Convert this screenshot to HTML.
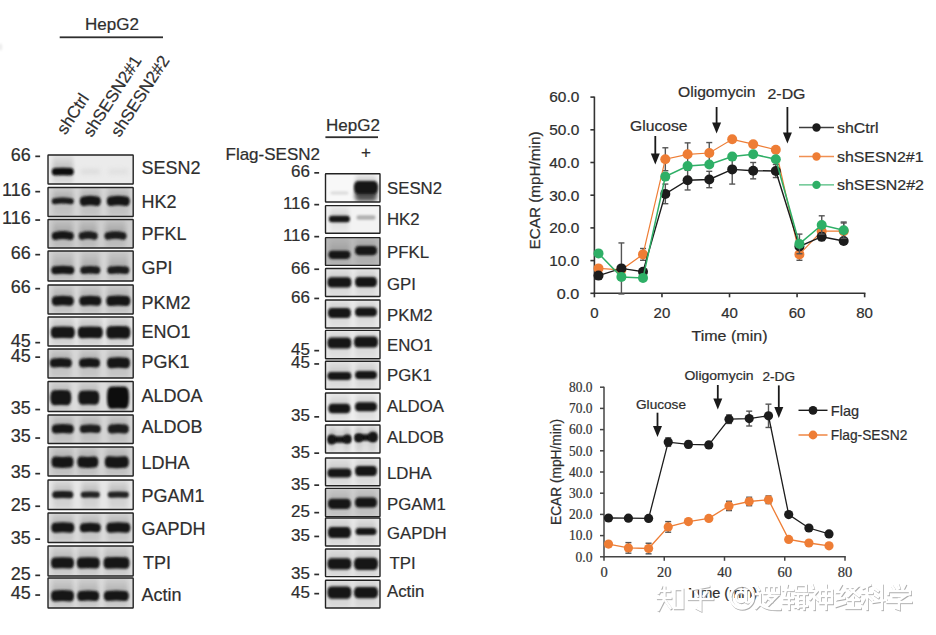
<!DOCTYPE html>
<html><head><meta charset="utf-8"><style>
html,body{margin:0;padding:0;background:#fff;width:936px;height:635px;overflow:hidden}
svg{display:block}
</style></head><body>
<svg width="936" height="635" viewBox="0 0 936 635">
<defs>
<filter id="b1" x="-50%" y="-100%" width="200%" height="300%"><feGaussianBlur stdDeviation="1.1"/></filter>
<filter id="b2" x="-50%" y="-100%" width="200%" height="300%"><feGaussianBlur stdDeviation="2"/></filter>
<filter id="b3" x="-50%" y="-100%" width="200%" height="300%"><feGaussianBlur stdDeviation="3"/></filter>
<filter id="tb" x="-10%" y="-10%" width="120%" height="120%"><feGaussianBlur stdDeviation="0.35"/></filter>
</defs>
<rect width="936" height="635" fill="#fff"/>

<linearGradient id="smU" x1="0" y1="0" x2="0" y2="1"><stop offset="0" stop-color="#000" stop-opacity="0"/><stop offset="1" stop-color="#000" stop-opacity="1"/></linearGradient>
<linearGradient id="smD" x1="0" y1="0" x2="0" y2="1"><stop offset="0" stop-color="#000" stop-opacity="1"/><stop offset="1" stop-color="#000" stop-opacity="0"/></linearGradient>
<clipPath id="c1"><rect x="48" y="155" width="85.19999999999999" height="29"/></clipPath>
<g clip-path="url(#c1)">
<rect x="48" y="155" width="85.19999999999999" height="29" fill="#ebebeb"/>
<rect x="52.8" y="155" width="20" height="29" fill="#000" opacity="0.06" filter="url(#b2)"/>
<rect x="52.8" y="157" width="20" height="14.400000000000006" fill="url(#smU)" opacity="0.18" filter="url(#b2)"/>
<rect x="52.8" y="171.4" width="20" height="12.599999999999994" fill="url(#smD)" opacity="0.06" filter="url(#b2)"/>
<path d="M55.17,167.95 Q62.80,167.35 70.42,167.95 Q73.80,167.95 73.80,171.70 Q73.80,175.45 70.42,175.45 Q62.80,174.85 55.17,175.45 Q51.80,175.45 51.80,171.70 Q51.80,167.95 55.17,167.95 Z" fill="#111" opacity="1" filter="url(#b1)"/>
<path d="M82.77,168.95 Q90.30,168.35 97.83,168.95 Q100.30,168.95 100.30,171.70 Q100.30,174.45 97.83,174.45 Q90.30,173.85 82.77,174.45 Q80.30,174.45 80.30,171.70 Q80.30,168.95 82.77,168.95 Z" fill="#cfcfcf" opacity="0.5" filter="url(#b2)"/>
<path d="M110.77,168.95 Q118.30,168.35 125.83,168.95 Q128.30,168.95 128.30,171.70 Q128.30,174.45 125.83,174.45 Q118.30,173.85 110.77,174.45 Q108.30,174.45 108.30,171.70 Q108.30,168.95 110.77,168.95 Z" fill="#d0d0d0" opacity="0.4" filter="url(#b2)"/>
</g>
<rect x="48" y="155" width="85.19999999999999" height="29" fill="none" stroke="#222" stroke-width="1.4" rx="0.5"/>
<clipPath id="c2"><rect x="48" y="187.5" width="85.19999999999999" height="29.0"/></clipPath>
<g clip-path="url(#c2)">
<rect x="48" y="187.5" width="85.19999999999999" height="29.0" fill="#d4d4d4"/>
<rect x="52.8" y="187.5" width="20" height="29.0" fill="#000" opacity="0.06" filter="url(#b2)"/>
<rect x="52.8" y="189.5" width="20" height="11.0" fill="url(#smU)" opacity="0.18" filter="url(#b2)"/>
<rect x="52.8" y="200.5" width="20" height="16.0" fill="url(#smD)" opacity="0.06" filter="url(#b2)"/>
<path d="M54.50,198.30 Q62.80,196.70 71.10,198.30 Q73.80,198.30 73.80,201.30 Q73.80,204.30 71.10,204.30 Q62.80,202.70 54.50,204.30 Q51.80,204.30 51.80,201.30 Q51.80,198.30 54.50,198.30 Z" fill="#1a1a1a" opacity="1" filter="url(#b1)"/>
<rect x="80.8" y="187.5" width="19" height="29.0" fill="#000" opacity="0.06" filter="url(#b2)"/>
<rect x="80.8" y="189.5" width="19" height="11.0" fill="url(#smU)" opacity="0.18" filter="url(#b2)"/>
<rect x="80.8" y="200.5" width="19" height="16.0" fill="url(#smD)" opacity="0.06" filter="url(#b2)"/>
<path d="M83.80,196.55 Q90.30,194.95 96.80,196.55 Q100.80,196.55 100.80,201.30 Q100.80,206.05 96.80,206.05 Q90.30,204.45 83.80,206.05 Q79.80,206.05 79.80,201.30 Q79.80,196.55 83.80,196.55 Z" fill="#141414" opacity="1" filter="url(#b1)"/>
<rect x="107.8" y="187.5" width="21" height="29.0" fill="#000" opacity="0.06" filter="url(#b2)"/>
<rect x="107.8" y="189.5" width="21" height="11.0" fill="url(#smU)" opacity="0.18" filter="url(#b2)"/>
<rect x="107.8" y="200.5" width="21" height="16.0" fill="url(#smD)" opacity="0.06" filter="url(#b2)"/>
<path d="M110.80,196.55 Q118.30,194.95 125.80,196.55 Q129.80,196.55 129.80,201.30 Q129.80,206.05 125.80,206.05 Q118.30,204.45 110.80,206.05 Q106.80,206.05 106.80,201.30 Q106.80,196.55 110.80,196.55 Z" fill="#141414" opacity="1" filter="url(#b1)"/>
</g>
<rect x="48" y="187.5" width="85.19999999999999" height="29.0" fill="none" stroke="#222" stroke-width="1.4" rx="0.5"/>
<clipPath id="c3"><rect x="48" y="219.5" width="85.19999999999999" height="28.5"/></clipPath>
<g clip-path="url(#c3)">
<rect x="48" y="219.5" width="85.19999999999999" height="28.5" fill="#cdcdcd"/>
<rect x="52.8" y="219.5" width="20" height="28.5" fill="#000" opacity="0.06" filter="url(#b2)"/>
<rect x="52.8" y="221.5" width="20" height="13.5" fill="url(#smU)" opacity="0.18" filter="url(#b2)"/>
<rect x="52.8" y="235.0" width="20" height="13.0" fill="url(#smD)" opacity="0.06" filter="url(#b2)"/>
<path d="M55.40,231.90 Q62.80,230.10 70.20,231.90 Q73.80,231.90 73.80,235.90 Q73.80,239.90 70.20,239.90 Q62.80,238.10 55.40,239.90 Q51.80,239.90 51.80,235.90 Q51.80,231.90 55.40,231.90 Z" fill="#141414" opacity="1" filter="url(#b1)"/>
<rect x="79.7" y="219.5" width="17" height="28.5" fill="#000" opacity="0.06" filter="url(#b2)"/>
<rect x="79.7" y="221.5" width="17" height="13.5" fill="url(#smU)" opacity="0.18" filter="url(#b2)"/>
<rect x="79.7" y="235.0" width="17" height="13.0" fill="url(#smD)" opacity="0.06" filter="url(#b2)"/>
<path d="M82.08,232.15 Q88.20,230.35 94.33,232.15 Q97.70,232.15 97.70,235.90 Q97.70,239.65 94.33,239.65 Q88.20,237.85 82.08,239.65 Q78.70,239.65 78.70,235.90 Q78.70,232.15 82.08,232.15 Z" fill="#1a1a1a" opacity="1" filter="url(#b1)"/>
<rect x="105.5" y="219.5" width="20" height="28.5" fill="#000" opacity="0.06" filter="url(#b2)"/>
<rect x="105.5" y="221.5" width="20" height="13.5" fill="url(#smU)" opacity="0.18" filter="url(#b2)"/>
<rect x="105.5" y="235.0" width="20" height="13.0" fill="url(#smD)" opacity="0.06" filter="url(#b2)"/>
<path d="M107.88,232.15 Q115.50,230.35 123.12,232.15 Q126.50,232.15 126.50,235.90 Q126.50,239.65 123.12,239.65 Q115.50,237.85 107.88,239.65 Q104.50,239.65 104.50,235.90 Q104.50,232.15 107.88,232.15 Z" fill="#1a1a1a" opacity="1" filter="url(#b1)"/>
</g>
<rect x="48" y="219.5" width="85.19999999999999" height="28.5" fill="none" stroke="#222" stroke-width="1.4" rx="0.5"/>
<clipPath id="c4"><rect x="48" y="251" width="85.19999999999999" height="30"/></clipPath>
<g clip-path="url(#c4)">
<rect x="48" y="251" width="85.19999999999999" height="30" fill="#d4d4d4"/>
<rect x="52.3" y="251" width="21" height="30" fill="#000" opacity="0.06" filter="url(#b2)"/>
<rect x="52.3" y="253" width="21" height="16.80000000000001" fill="url(#smU)" opacity="0.18" filter="url(#b2)"/>
<rect x="52.3" y="269.8" width="21" height="11.199999999999989" fill="url(#smD)" opacity="0.06" filter="url(#b2)"/>
<path d="M54.90,266.30 Q62.80,265.30 70.70,266.30 Q74.30,266.30 74.30,270.30 Q74.30,274.30 70.70,274.30 Q62.80,273.30 54.90,274.30 Q51.30,274.30 51.30,270.30 Q51.30,266.30 54.90,266.30 Z" fill="#161616" opacity="1" filter="url(#b1)"/>
<rect x="81.3" y="251" width="18" height="30" fill="#000" opacity="0.06" filter="url(#b2)"/>
<rect x="81.3" y="253" width="18" height="16.80000000000001" fill="url(#smU)" opacity="0.18" filter="url(#b2)"/>
<rect x="81.3" y="269.8" width="18" height="11.199999999999989" fill="url(#smD)" opacity="0.06" filter="url(#b2)"/>
<path d="M83.67,266.55 Q90.30,265.55 96.92,266.55 Q100.30,266.55 100.30,270.30 Q100.30,274.05 96.92,274.05 Q90.30,273.05 83.67,274.05 Q80.30,274.05 80.30,270.30 Q80.30,266.55 83.67,266.55 Z" fill="#1a1a1a" opacity="1" filter="url(#b1)"/>
<rect x="108.3" y="251" width="20" height="30" fill="#000" opacity="0.06" filter="url(#b2)"/>
<rect x="108.3" y="253" width="20" height="16.80000000000001" fill="url(#smU)" opacity="0.18" filter="url(#b2)"/>
<rect x="108.3" y="269.8" width="20" height="11.199999999999989" fill="url(#smD)" opacity="0.06" filter="url(#b2)"/>
<path d="M110.67,266.55 Q118.30,265.55 125.93,266.55 Q129.30,266.55 129.30,270.30 Q129.30,274.05 125.93,274.05 Q118.30,273.05 110.67,274.05 Q107.30,274.05 107.30,270.30 Q107.30,266.55 110.67,266.55 Z" fill="#1a1a1a" opacity="1" filter="url(#b1)"/>
</g>
<rect x="48" y="251" width="85.19999999999999" height="30" fill="none" stroke="#222" stroke-width="1.4" rx="0.5"/>
<clipPath id="c5"><rect x="48" y="285" width="85.19999999999999" height="29"/></clipPath>
<g clip-path="url(#c5)">
<rect x="48" y="285" width="85.19999999999999" height="29" fill="#d6d6d6"/>
<rect x="52.8" y="285" width="20" height="29" fill="#000" opacity="0.06" filter="url(#b2)"/>
<rect x="52.8" y="287" width="20" height="13.5" fill="url(#smU)" opacity="0.18" filter="url(#b2)"/>
<rect x="52.8" y="300.5" width="20" height="13.5" fill="url(#smD)" opacity="0.06" filter="url(#b2)"/>
<path d="M55.80,296.35 Q62.80,295.15 69.80,296.35 Q73.80,296.35 73.80,301.10 Q73.80,305.85 69.80,305.85 Q62.80,304.65 55.80,305.85 Q51.80,305.85 51.80,301.10 Q51.80,296.35 55.80,296.35 Z" fill="#151515" opacity="1" filter="url(#b1)"/>
<rect x="80.3" y="285" width="20" height="29" fill="#000" opacity="0.06" filter="url(#b2)"/>
<rect x="80.3" y="287" width="20" height="13.5" fill="url(#smU)" opacity="0.18" filter="url(#b2)"/>
<rect x="80.3" y="300.5" width="20" height="13.5" fill="url(#smD)" opacity="0.06" filter="url(#b2)"/>
<path d="M83.30,296.35 Q90.30,295.15 97.30,296.35 Q101.30,296.35 101.30,301.10 Q101.30,305.85 97.30,305.85 Q90.30,304.65 83.30,305.85 Q79.30,305.85 79.30,301.10 Q79.30,296.35 83.30,296.35 Z" fill="#151515" opacity="1" filter="url(#b1)"/>
<rect x="107.3" y="285" width="22" height="29" fill="#000" opacity="0.06" filter="url(#b2)"/>
<rect x="107.3" y="287" width="22" height="13.5" fill="url(#smU)" opacity="0.18" filter="url(#b2)"/>
<rect x="107.3" y="300.5" width="22" height="13.5" fill="url(#smD)" opacity="0.06" filter="url(#b2)"/>
<path d="M110.30,296.10 Q118.30,294.90 126.30,296.10 Q130.30,296.10 130.30,301.10 Q130.30,306.10 126.30,306.10 Q118.30,304.90 110.30,306.10 Q106.30,306.10 106.30,301.10 Q106.30,296.10 110.30,296.10 Z" fill="#151515" opacity="1" filter="url(#b1)"/>
</g>
<rect x="48" y="285" width="85.19999999999999" height="29" fill="none" stroke="#222" stroke-width="1.4" rx="0.5"/>
<clipPath id="c6"><rect x="48" y="317" width="85.19999999999999" height="29"/></clipPath>
<g clip-path="url(#c6)">
<rect x="48" y="317" width="85.19999999999999" height="29" fill="#e6e6e6"/>
<rect x="51.8" y="317" width="22" height="29" fill="#000" opacity="0.06" filter="url(#b2)"/>
<rect x="51.8" y="319" width="22" height="13.300000000000011" fill="url(#smU)" opacity="0.18" filter="url(#b2)"/>
<rect x="51.8" y="332.3" width="22" height="13.699999999999989" fill="url(#smD)" opacity="0.06" filter="url(#b2)"/>
<path d="M54.80,326.65 Q62.80,326.45 70.80,326.65 Q74.80,326.65 74.80,332.40 Q74.80,338.15 70.80,338.15 Q62.80,337.95 54.80,338.15 Q50.80,338.15 50.80,332.40 Q50.80,326.65 54.80,326.65 Z" fill="#151515" opacity="1" filter="url(#b1)"/>
<rect x="78.8" y="317" width="23" height="29" fill="#000" opacity="0.06" filter="url(#b2)"/>
<rect x="78.8" y="319" width="23" height="13.300000000000011" fill="url(#smU)" opacity="0.18" filter="url(#b2)"/>
<rect x="78.8" y="332.3" width="23" height="13.699999999999989" fill="url(#smD)" opacity="0.06" filter="url(#b2)"/>
<path d="M81.80,326.65 Q90.30,326.45 98.80,326.65 Q102.80,326.65 102.80,332.40 Q102.80,338.15 98.80,338.15 Q90.30,337.95 81.80,338.15 Q77.80,338.15 77.80,332.40 Q77.80,326.65 81.80,326.65 Z" fill="#151515" opacity="1" filter="url(#b1)"/>
<rect x="107.3" y="317" width="22" height="29" fill="#000" opacity="0.06" filter="url(#b2)"/>
<rect x="107.3" y="319" width="22" height="13.300000000000011" fill="url(#smU)" opacity="0.18" filter="url(#b2)"/>
<rect x="107.3" y="332.3" width="22" height="13.699999999999989" fill="url(#smD)" opacity="0.06" filter="url(#b2)"/>
<path d="M110.30,326.15 Q118.30,325.95 126.30,326.15 Q130.30,326.15 130.30,332.40 Q130.30,338.65 126.30,338.65 Q118.30,338.45 110.30,338.65 Q106.30,338.65 106.30,332.40 Q106.30,326.15 110.30,326.15 Z" fill="#151515" opacity="1" filter="url(#b1)"/>
</g>
<rect x="48" y="317" width="85.19999999999999" height="29" fill="none" stroke="#222" stroke-width="1.4" rx="0.5"/>
<clipPath id="c7"><rect x="48" y="349" width="85.19999999999999" height="29"/></clipPath>
<g clip-path="url(#c7)">
<rect x="48" y="349" width="85.19999999999999" height="29" fill="#d6d6d6"/>
<rect x="50.8" y="349" width="20" height="29" fill="#000" opacity="0.06" filter="url(#b2)"/>
<rect x="50.8" y="351" width="20" height="11.600000000000023" fill="url(#smU)" opacity="0.18" filter="url(#b2)"/>
<rect x="50.8" y="362.6" width="20" height="15.399999999999977" fill="url(#smD)" opacity="0.06" filter="url(#b2)"/>
<path d="M53.80,358.50 Q60.80,357.70 67.80,358.50 Q71.80,358.50 71.80,363.00 Q71.80,367.50 67.80,367.50 Q60.80,366.70 53.80,367.50 Q49.80,367.50 49.80,363.00 Q49.80,358.50 53.80,358.50 Z" fill="#171717" opacity="1" filter="url(#b1)"/>
<rect x="80.0" y="349" width="19" height="29" fill="#000" opacity="0.06" filter="url(#b2)"/>
<rect x="80.0" y="351" width="19" height="11.600000000000023" fill="url(#smU)" opacity="0.18" filter="url(#b2)"/>
<rect x="80.0" y="362.6" width="19" height="15.399999999999977" fill="url(#smD)" opacity="0.06" filter="url(#b2)"/>
<path d="M83.00,358.50 Q89.50,357.70 96.00,358.50 Q100.00,358.50 100.00,363.00 Q100.00,367.50 96.00,367.50 Q89.50,366.70 83.00,367.50 Q79.00,367.50 79.00,363.00 Q79.00,358.50 83.00,358.50 Z" fill="#171717" opacity="1" filter="url(#b1)"/>
<rect x="108.0" y="349" width="21" height="29" fill="#000" opacity="0.06" filter="url(#b2)"/>
<rect x="108.0" y="351" width="21" height="11.600000000000023" fill="url(#smU)" opacity="0.18" filter="url(#b2)"/>
<rect x="108.0" y="362.6" width="21" height="15.399999999999977" fill="url(#smD)" opacity="0.06" filter="url(#b2)"/>
<path d="M111.00,357.75 Q118.50,356.95 126.00,357.75 Q130.00,357.75 130.00,363.00 Q130.00,368.25 126.00,368.25 Q118.50,367.45 111.00,368.25 Q107.00,368.25 107.00,363.00 Q107.00,357.75 111.00,357.75 Z" fill="#151515" opacity="1" filter="url(#b1)"/>
</g>
<rect x="48" y="349" width="85.19999999999999" height="29" fill="none" stroke="#222" stroke-width="1.4" rx="0.5"/>
<clipPath id="c8"><rect x="48" y="381.5" width="85.19999999999999" height="30.0"/></clipPath>
<g clip-path="url(#c8)">
<rect x="48" y="381.5" width="85.19999999999999" height="30.0" fill="#dcdcdc"/>
<rect x="51.3" y="381.5" width="19" height="30.0" fill="#000" opacity="0.06" filter="url(#b2)"/>
<rect x="51.3" y="383.5" width="19" height="14.0" fill="url(#smU)" opacity="0.18" filter="url(#b2)"/>
<rect x="51.3" y="397.5" width="19" height="14.0" fill="url(#smD)" opacity="0.06" filter="url(#b2)"/>
<path d="M54.30,390.20 Q60.80,389.80 67.30,390.20 Q71.30,390.20 71.30,397.70 Q71.30,405.20 67.30,405.20 Q60.80,404.80 54.30,405.20 Q50.30,405.20 50.30,397.70 Q50.30,390.20 54.30,390.20 Z" fill="#151515" opacity="1" filter="url(#b1)"/>
<rect x="79.3" y="381.5" width="19" height="30.0" fill="#000" opacity="0.06" filter="url(#b2)"/>
<rect x="79.3" y="383.5" width="19" height="14.0" fill="url(#smU)" opacity="0.18" filter="url(#b2)"/>
<rect x="79.3" y="397.5" width="19" height="14.0" fill="url(#smD)" opacity="0.06" filter="url(#b2)"/>
<path d="M82.30,390.70 Q88.80,390.30 95.30,390.70 Q99.30,390.70 99.30,397.70 Q99.30,404.70 95.30,404.70 Q88.80,404.30 82.30,404.70 Q78.30,404.70 78.30,397.70 Q78.30,390.70 82.30,390.70 Z" fill="#151515" opacity="1" filter="url(#b1)"/>
<rect x="108.0" y="381.5" width="20" height="30.0" fill="#000" opacity="0.06" filter="url(#b2)"/>
<rect x="108.0" y="383.5" width="20" height="14.0" fill="url(#smU)" opacity="0.18" filter="url(#b2)"/>
<rect x="108.0" y="397.5" width="20" height="14.0" fill="url(#smD)" opacity="0.06" filter="url(#b2)"/>
<path d="M111.00,386.70 Q118.00,386.30 125.00,386.70 Q129.00,386.70 129.00,397.70 Q129.00,408.70 125.00,408.70 Q118.00,408.30 111.00,408.70 Q107.00,408.70 107.00,397.70 Q107.00,386.70 111.00,386.70 Z" fill="#111" opacity="1" filter="url(#b1)"/>
</g>
<rect x="48" y="381.5" width="85.19999999999999" height="30.0" fill="none" stroke="#222" stroke-width="1.4" rx="0.5"/>
<clipPath id="c9"><rect x="48" y="415" width="85.19999999999999" height="28.5"/></clipPath>
<g clip-path="url(#c9)">
<rect x="48" y="415" width="85.19999999999999" height="28.5" fill="#d4d4d4"/>
<rect x="52.8" y="415" width="20" height="28.5" fill="#000" opacity="0.06" filter="url(#b2)"/>
<rect x="52.8" y="417" width="20" height="11.600000000000023" fill="url(#smU)" opacity="0.18" filter="url(#b2)"/>
<rect x="52.8" y="428.6" width="20" height="14.899999999999977" fill="url(#smD)" opacity="0.06" filter="url(#b2)"/>
<path d="M55.80,424.60 Q62.80,423.60 69.80,424.60 Q73.80,424.60 73.80,429.10 Q73.80,433.60 69.80,433.60 Q62.80,432.60 55.80,433.60 Q51.80,433.60 51.80,429.10 Q51.80,424.60 55.80,424.60 Z" fill="#161616" opacity="1" filter="url(#b1)"/>
<rect x="80.8" y="415" width="19" height="28.5" fill="#000" opacity="0.06" filter="url(#b2)"/>
<rect x="80.8" y="417" width="19" height="11.600000000000023" fill="url(#smU)" opacity="0.18" filter="url(#b2)"/>
<rect x="80.8" y="428.6" width="19" height="14.899999999999977" fill="url(#smD)" opacity="0.06" filter="url(#b2)"/>
<path d="M83.40,425.10 Q90.30,424.10 97.20,425.10 Q100.80,425.10 100.80,429.10 Q100.80,433.10 97.20,433.10 Q90.30,432.10 83.40,433.10 Q79.80,433.10 79.80,429.10 Q79.80,425.10 83.40,425.10 Z" fill="#1b1b1b" opacity="1" filter="url(#b1)"/>
<rect x="108.8" y="415" width="19" height="28.5" fill="#000" opacity="0.06" filter="url(#b2)"/>
<rect x="108.8" y="417" width="19" height="11.600000000000023" fill="url(#smU)" opacity="0.18" filter="url(#b2)"/>
<rect x="108.8" y="428.6" width="19" height="14.899999999999977" fill="url(#smD)" opacity="0.06" filter="url(#b2)"/>
<path d="M111.80,424.60 Q118.30,423.60 124.80,424.60 Q128.80,424.60 128.80,429.10 Q128.80,433.60 124.80,433.60 Q118.30,432.60 111.80,433.60 Q107.80,433.60 107.80,429.10 Q107.80,424.60 111.80,424.60 Z" fill="#1a1a1a" opacity="1" filter="url(#b1)"/>
</g>
<rect x="48" y="415" width="85.19999999999999" height="28.5" fill="none" stroke="#222" stroke-width="1.4" rx="0.5"/>
<clipPath id="c10"><rect x="48" y="447" width="85.19999999999999" height="29"/></clipPath>
<g clip-path="url(#c10)">
<rect x="48" y="447" width="85.19999999999999" height="29" fill="#d2d2d2"/>
<rect x="52.5" y="447" width="20" height="29" fill="#000" opacity="0.06" filter="url(#b2)"/>
<rect x="52.5" y="449" width="20" height="13.399999999999977" fill="url(#smU)" opacity="0.18" filter="url(#b2)"/>
<rect x="52.5" y="462.4" width="20" height="13.600000000000023" fill="url(#smD)" opacity="0.06" filter="url(#b2)"/>
<path d="M55.50,456.50 Q62.50,457.30 69.50,456.50 Q73.50,456.50 73.50,462.00 Q73.50,467.50 69.50,467.50 Q62.50,468.30 55.50,467.50 Q51.50,467.50 51.50,462.00 Q51.50,456.50 55.50,456.50 Z" fill="#151515" opacity="1" filter="url(#b1)"/>
<rect x="78.3" y="447" width="19" height="29" fill="#000" opacity="0.06" filter="url(#b2)"/>
<rect x="78.3" y="449" width="19" height="13.399999999999977" fill="url(#smU)" opacity="0.18" filter="url(#b2)"/>
<rect x="78.3" y="462.4" width="19" height="13.600000000000023" fill="url(#smD)" opacity="0.06" filter="url(#b2)"/>
<path d="M81.30,456.50 Q87.80,457.30 94.30,456.50 Q98.30,456.50 98.30,462.00 Q98.30,467.50 94.30,467.50 Q87.80,468.30 81.30,467.50 Q77.30,467.50 77.30,462.00 Q77.30,456.50 81.30,456.50 Z" fill="#151515" opacity="1" filter="url(#b1)"/>
<rect x="105.8" y="447" width="22" height="29" fill="#000" opacity="0.06" filter="url(#b2)"/>
<rect x="105.8" y="449" width="22" height="13.399999999999977" fill="url(#smU)" opacity="0.18" filter="url(#b2)"/>
<rect x="105.8" y="462.4" width="22" height="13.600000000000023" fill="url(#smD)" opacity="0.06" filter="url(#b2)"/>
<path d="M108.80,456.25 Q116.80,457.05 124.80,456.25 Q128.80,456.25 128.80,462.00 Q128.80,467.75 124.80,467.75 Q116.80,468.55 108.80,467.75 Q104.80,467.75 104.80,462.00 Q104.80,456.25 108.80,456.25 Z" fill="#151515" opacity="1" filter="url(#b1)"/>
</g>
<rect x="48" y="447" width="85.19999999999999" height="29" fill="none" stroke="#222" stroke-width="1.4" rx="0.5"/>
<clipPath id="c11"><rect x="48" y="480" width="85.19999999999999" height="29.5"/></clipPath>
<g clip-path="url(#c11)">
<rect x="48" y="480" width="85.19999999999999" height="29.5" fill="#e6e6e6"/>
<rect x="53.3" y="480" width="19" height="29.5" fill="#000" opacity="0.06" filter="url(#b2)"/>
<rect x="53.3" y="482" width="19" height="12.399999999999977" fill="url(#smU)" opacity="0.18" filter="url(#b2)"/>
<rect x="53.3" y="494.4" width="19" height="15.100000000000023" fill="url(#smD)" opacity="0.06" filter="url(#b2)"/>
<path d="M55.45,491.30 Q62.80,490.50 70.15,491.30 Q73.30,491.30 73.30,494.80 Q73.30,498.30 70.15,498.30 Q62.80,497.50 55.45,498.30 Q52.30,498.30 52.30,494.80 Q52.30,491.30 55.45,491.30 Z" fill="#1a1a1a" opacity="1" filter="url(#b1)"/>
<rect x="81.8" y="480" width="17" height="29.5" fill="#000" opacity="0.06" filter="url(#b2)"/>
<rect x="81.8" y="482" width="17" height="12.399999999999977" fill="url(#smU)" opacity="0.18" filter="url(#b2)"/>
<rect x="81.8" y="494.4" width="17" height="15.100000000000023" fill="url(#smD)" opacity="0.06" filter="url(#b2)"/>
<path d="M83.50,491.80 Q90.30,491.00 97.10,491.80 Q99.80,491.80 99.80,494.80 Q99.80,497.80 97.10,497.80 Q90.30,497.00 83.50,497.80 Q80.80,497.80 80.80,494.80 Q80.80,491.80 83.50,491.80 Z" fill="#222" opacity="1" filter="url(#b1)"/>
<rect x="108.8" y="480" width="19" height="29.5" fill="#000" opacity="0.06" filter="url(#b2)"/>
<rect x="108.8" y="482" width="19" height="12.399999999999977" fill="url(#smU)" opacity="0.18" filter="url(#b2)"/>
<rect x="108.8" y="494.4" width="19" height="15.100000000000023" fill="url(#smD)" opacity="0.06" filter="url(#b2)"/>
<path d="M110.50,491.80 Q118.30,491.00 126.10,491.80 Q128.80,491.80 128.80,494.80 Q128.80,497.80 126.10,497.80 Q118.30,497.00 110.50,497.80 Q107.80,497.80 107.80,494.80 Q107.80,491.80 110.50,491.80 Z" fill="#222" opacity="1" filter="url(#b1)"/>
</g>
<rect x="48" y="480" width="85.19999999999999" height="29.5" fill="none" stroke="#222" stroke-width="1.4" rx="0.5"/>
<clipPath id="c12"><rect x="48" y="513" width="85.19999999999999" height="29.5"/></clipPath>
<g clip-path="url(#c12)">
<rect x="48" y="513" width="85.19999999999999" height="29.5" fill="#dadada"/>
<rect x="52.3" y="513" width="21" height="29.5" fill="#000" opacity="0.06" filter="url(#b2)"/>
<rect x="52.3" y="515" width="21" height="12.200000000000045" fill="url(#smU)" opacity="0.18" filter="url(#b2)"/>
<rect x="52.3" y="527.2" width="21" height="15.299999999999955" fill="url(#smD)" opacity="0.06" filter="url(#b2)"/>
<path d="M55.30,522.70 Q62.80,521.70 70.30,522.70 Q74.30,522.70 74.30,527.70 Q74.30,532.70 70.30,532.70 Q62.80,531.70 55.30,532.70 Q51.30,532.70 51.30,527.70 Q51.30,522.70 55.30,522.70 Z" fill="#151515" opacity="1" filter="url(#b1)"/>
<rect x="80.8" y="513" width="19" height="29.5" fill="#000" opacity="0.06" filter="url(#b2)"/>
<rect x="80.8" y="515" width="19" height="12.200000000000045" fill="url(#smU)" opacity="0.18" filter="url(#b2)"/>
<rect x="80.8" y="527.2" width="19" height="15.299999999999955" fill="url(#smD)" opacity="0.06" filter="url(#b2)"/>
<path d="M83.80,523.20 Q90.30,522.20 96.80,523.20 Q100.80,523.20 100.80,527.70 Q100.80,532.20 96.80,532.20 Q90.30,531.20 83.80,532.20 Q79.80,532.20 79.80,527.70 Q79.80,523.20 83.80,523.20 Z" fill="#171717" opacity="1" filter="url(#b1)"/>
<rect x="107.3" y="513" width="22" height="29.5" fill="#000" opacity="0.06" filter="url(#b2)"/>
<rect x="107.3" y="515" width="22" height="12.200000000000045" fill="url(#smU)" opacity="0.18" filter="url(#b2)"/>
<rect x="107.3" y="527.2" width="22" height="15.299999999999955" fill="url(#smD)" opacity="0.06" filter="url(#b2)"/>
<path d="M110.30,522.70 Q118.30,521.70 126.30,522.70 Q130.30,522.70 130.30,527.70 Q130.30,532.70 126.30,532.70 Q118.30,531.70 110.30,532.70 Q106.30,532.70 106.30,527.70 Q106.30,522.70 110.30,522.70 Z" fill="#151515" opacity="1" filter="url(#b1)"/>
</g>
<rect x="48" y="513" width="85.19999999999999" height="29.5" fill="none" stroke="#222" stroke-width="1.4" rx="0.5"/>
<clipPath id="c13"><rect x="48" y="546" width="85.19999999999999" height="30"/></clipPath>
<g clip-path="url(#c13)">
<rect x="48" y="546" width="85.19999999999999" height="30" fill="#dddddd"/>
<rect x="52.0" y="546" width="21" height="30" fill="#000" opacity="0.06" filter="url(#b2)"/>
<rect x="52.0" y="548" width="21" height="14.700000000000045" fill="url(#smU)" opacity="0.18" filter="url(#b2)"/>
<rect x="52.0" y="562.7" width="21" height="13.299999999999955" fill="url(#smD)" opacity="0.06" filter="url(#b2)"/>
<path d="M55.00,557.60 Q62.50,556.80 70.00,557.60 Q74.00,557.60 74.00,563.10 Q74.00,568.60 70.00,568.60 Q62.50,567.80 55.00,568.60 Q51.00,568.60 51.00,563.10 Q51.00,557.60 55.00,557.60 Z" fill="#151515" opacity="1" filter="url(#b1)"/>
<rect x="77.8" y="546" width="21" height="30" fill="#000" opacity="0.06" filter="url(#b2)"/>
<rect x="77.8" y="548" width="21" height="14.700000000000045" fill="url(#smU)" opacity="0.18" filter="url(#b2)"/>
<rect x="77.8" y="562.7" width="21" height="13.299999999999955" fill="url(#smD)" opacity="0.06" filter="url(#b2)"/>
<path d="M80.80,557.60 Q88.30,556.80 95.80,557.60 Q99.80,557.60 99.80,563.10 Q99.80,568.60 95.80,568.60 Q88.30,567.80 80.80,568.60 Q76.80,568.60 76.80,563.10 Q76.80,557.60 80.80,557.60 Z" fill="#151515" opacity="1" filter="url(#b1)"/>
<rect x="104.5" y="546" width="24" height="30" fill="#000" opacity="0.06" filter="url(#b2)"/>
<rect x="104.5" y="548" width="24" height="14.700000000000045" fill="url(#smU)" opacity="0.18" filter="url(#b2)"/>
<rect x="104.5" y="562.7" width="24" height="13.299999999999955" fill="url(#smD)" opacity="0.06" filter="url(#b2)"/>
<path d="M107.50,557.35 Q116.50,556.55 125.50,557.35 Q129.50,557.35 129.50,563.10 Q129.50,568.85 125.50,568.85 Q116.50,568.05 107.50,568.85 Q103.50,568.85 103.50,563.10 Q103.50,557.35 107.50,557.35 Z" fill="#151515" opacity="1" filter="url(#b1)"/>
</g>
<rect x="48" y="546" width="85.19999999999999" height="30" fill="none" stroke="#222" stroke-width="1.4" rx="0.5"/>
<clipPath id="c14"><rect x="48" y="578" width="85.19999999999999" height="30"/></clipPath>
<g clip-path="url(#c14)">
<rect x="48" y="578" width="85.19999999999999" height="30" fill="#dadada"/>
<rect x="52.0" y="578" width="21" height="30" fill="#000" opacity="0.06" filter="url(#b2)"/>
<rect x="52.0" y="580" width="21" height="15.600000000000023" fill="url(#smU)" opacity="0.18" filter="url(#b2)"/>
<rect x="52.0" y="595.6" width="21" height="12.399999999999977" fill="url(#smD)" opacity="0.06" filter="url(#b2)"/>
<path d="M55.00,590.60 Q62.50,589.60 70.00,590.60 Q74.00,590.60 74.00,596.10 Q74.00,601.60 70.00,601.60 Q62.50,600.60 55.00,601.60 Q51.00,601.60 51.00,596.10 Q51.00,590.60 55.00,590.60 Z" fill="#151515" opacity="1" filter="url(#b1)"/>
<rect x="78.2" y="578" width="20" height="30" fill="#000" opacity="0.06" filter="url(#b2)"/>
<rect x="78.2" y="580" width="20" height="15.600000000000023" fill="url(#smU)" opacity="0.18" filter="url(#b2)"/>
<rect x="78.2" y="595.6" width="20" height="12.399999999999977" fill="url(#smD)" opacity="0.06" filter="url(#b2)"/>
<path d="M81.20,591.10 Q88.20,590.10 95.20,591.10 Q99.20,591.10 99.20,596.10 Q99.20,601.10 95.20,601.10 Q88.20,600.10 81.20,601.10 Q77.20,601.10 77.20,596.10 Q77.20,591.10 81.20,591.10 Z" fill="#151515" opacity="1" filter="url(#b1)"/>
<rect x="104.8" y="578" width="23" height="30" fill="#000" opacity="0.06" filter="url(#b2)"/>
<rect x="104.8" y="580" width="23" height="15.600000000000023" fill="url(#smU)" opacity="0.18" filter="url(#b2)"/>
<rect x="104.8" y="595.6" width="23" height="12.399999999999977" fill="url(#smD)" opacity="0.06" filter="url(#b2)"/>
<path d="M107.80,591.10 Q116.30,590.10 124.80,591.10 Q128.80,591.10 128.80,596.10 Q128.80,601.10 124.80,601.10 Q116.30,600.10 107.80,601.10 Q103.80,601.10 103.80,596.10 Q103.80,591.10 107.80,591.10 Z" fill="#151515" opacity="1" filter="url(#b1)"/>
</g>
<rect x="48" y="578" width="85.19999999999999" height="30" fill="none" stroke="#222" stroke-width="1.4" rx="0.5"/>
<clipPath id="c15"><rect x="325.5" y="173.7" width="54.5" height="28.30000000000001"/></clipPath>
<g clip-path="url(#c15)">
<rect x="325.5" y="173.7" width="54.5" height="28.30000000000001" fill="#f8f8f8"/>
<path d="M331.75,191.50 Q339.40,191.50 347.05,191.50 Q348.40,191.50 348.40,193.00 Q348.40,194.50 347.05,194.50 Q339.40,194.50 331.75,194.50 Q330.40,194.50 330.40,193.00 Q330.40,191.50 331.75,191.50 Z" fill="#c8c8c8" opacity="0.6" filter="url(#b1)"/>
<rect x="356.0" y="173.7" width="20" height="28.30000000000001" fill="#000" opacity="0.035" filter="url(#b2)"/>
<rect x="356.0" y="175.7" width="20" height="19.30000000000001" fill="url(#smU)" opacity="0.14" filter="url(#b2)"/>
<rect x="356.0" y="195" width="20" height="7" fill="url(#smD)" opacity="0.05" filter="url(#b2)"/>
<path d="M359.00,189.00 Q366.00,189.00 373.00,189.00 Q377.00,189.00 377.00,195.00 Q377.00,201.00 373.00,201.00 Q366.00,201.00 359.00,201.00 Q355.00,201.00 355.00,195.00 Q355.00,189.00 359.00,189.00 Z" fill="#555" opacity="1" filter="url(#b2)"/>
<rect x="355.0" y="173.7" width="22" height="28.30000000000001" fill="#000" opacity="0.035" filter="url(#b2)"/>
<rect x="355.0" y="175.7" width="22" height="11.800000000000011" fill="url(#smU)" opacity="0.14" filter="url(#b2)"/>
<rect x="355.0" y="187.5" width="22" height="14.5" fill="url(#smD)" opacity="0.05" filter="url(#b2)"/>
<path d="M358.00,181.00 Q366.00,181.00 374.00,181.00 Q378.00,181.00 378.00,187.50 Q378.00,194.00 374.00,194.00 Q366.00,194.00 358.00,194.00 Q354.00,194.00 354.00,187.50 Q354.00,181.00 358.00,181.00 Z" fill="#121212" opacity="1" filter="url(#b1)"/>
</g>
<rect x="325.5" y="173.7" width="54.5" height="28.30000000000001" fill="none" stroke="#222" stroke-width="1.4" rx="0.5"/>
<clipPath id="c16"><rect x="325.5" y="205.6" width="54.5" height="27.599999999999994"/></clipPath>
<g clip-path="url(#c16)">
<rect x="325.5" y="205.6" width="54.5" height="27.599999999999994" fill="#f3f3f3"/>
<rect x="329.9" y="205.6" width="19" height="27.599999999999994" fill="#000" opacity="0.035" filter="url(#b2)"/>
<rect x="329.9" y="207.6" width="19" height="11.400000000000006" fill="url(#smU)" opacity="0.14" filter="url(#b2)"/>
<rect x="329.9" y="219" width="19" height="14.199999999999989" fill="url(#smD)" opacity="0.05" filter="url(#b2)"/>
<path d="M331.82,215.75 Q339.40,215.75 346.97,215.75 Q349.90,215.75 349.90,219.00 Q349.90,222.25 346.97,222.25 Q339.40,222.25 331.82,222.25 Q328.90,222.25 328.90,219.00 Q328.90,215.75 331.82,215.75 Z" fill="#141414" opacity="1" filter="url(#b1)"/>
<path d="M358.52,215.25 Q366.00,215.25 373.48,215.25 Q375.50,215.25 375.50,217.50 Q375.50,219.75 373.48,219.75 Q366.00,219.75 358.52,219.75 Q356.50,219.75 356.50,217.50 Q356.50,215.25 358.52,215.25 Z" fill="#9a9a9a" opacity="0.75" filter="url(#b1)"/>
</g>
<rect x="325.5" y="205.6" width="54.5" height="27.599999999999994" fill="none" stroke="#222" stroke-width="1.4" rx="0.5"/>
<clipPath id="c17"><rect x="325.5" y="237.6" width="54.5" height="27.799999999999983"/></clipPath>
<g clip-path="url(#c17)">
<rect x="325.5" y="237.6" width="54.5" height="27.799999999999983" fill="#bababa"/>
<rect x="329.4" y="237.6" width="20" height="27.799999999999983" fill="#000" opacity="0.035" filter="url(#b2)"/>
<rect x="329.4" y="239.6" width="20" height="15.200000000000017" fill="url(#smU)" opacity="0.14" filter="url(#b2)"/>
<rect x="329.4" y="254.8" width="20" height="10.599999999999966" fill="url(#smD)" opacity="0.05" filter="url(#b2)"/>
<path d="M332.09,250.70 Q339.40,250.70 346.71,250.70 Q350.40,250.70 350.40,254.80 Q350.40,258.90 346.71,258.90 Q339.40,258.90 332.09,258.90 Q328.40,258.90 328.40,254.80 Q328.40,250.70 332.09,250.70 Z" fill="#161616" opacity="1" filter="url(#b1)"/>
<rect x="356.0" y="237.6" width="20" height="27.799999999999983" fill="#000" opacity="0.035" filter="url(#b2)"/>
<rect x="356.0" y="239.6" width="20" height="11.0" fill="url(#smU)" opacity="0.14" filter="url(#b2)"/>
<rect x="356.0" y="250.6" width="20" height="14.799999999999983" fill="url(#smD)" opacity="0.05" filter="url(#b2)"/>
<path d="M359.00,246.00 Q366.00,246.00 373.00,246.00 Q377.00,246.00 377.00,250.60 Q377.00,255.20 373.00,255.20 Q366.00,255.20 359.00,255.20 Q355.00,255.20 355.00,250.60 Q355.00,246.00 359.00,246.00 Z" fill="#161616" opacity="1" filter="url(#b1)"/>
</g>
<rect x="325.5" y="237.6" width="54.5" height="27.799999999999983" fill="none" stroke="#222" stroke-width="1.4" rx="0.5"/>
<clipPath id="c18"><rect x="325.5" y="268.5" width="54.5" height="28.0"/></clipPath>
<g clip-path="url(#c18)">
<rect x="325.5" y="268.5" width="54.5" height="28.0" fill="#e8e8e8"/>
<rect x="328.4" y="268.5" width="22" height="28.0" fill="#000" opacity="0.035" filter="url(#b2)"/>
<rect x="328.4" y="270.5" width="22" height="11.899999999999977" fill="url(#smU)" opacity="0.14" filter="url(#b2)"/>
<rect x="328.4" y="282.4" width="22" height="14.100000000000023" fill="url(#smD)" opacity="0.05" filter="url(#b2)"/>
<path d="M331.40,277.30 Q339.40,277.30 347.40,277.30 Q351.40,277.30 351.40,282.40 Q351.40,287.50 347.40,287.50 Q339.40,287.50 331.40,287.50 Q327.40,287.50 327.40,282.40 Q327.40,277.30 331.40,277.30 Z" fill="#151515" opacity="1" filter="url(#b1)"/>
<rect x="356.0" y="268.5" width="20" height="28.0" fill="#000" opacity="0.035" filter="url(#b2)"/>
<rect x="356.0" y="270.5" width="20" height="11.5" fill="url(#smU)" opacity="0.14" filter="url(#b2)"/>
<rect x="356.0" y="282" width="20" height="14.5" fill="url(#smD)" opacity="0.05" filter="url(#b2)"/>
<path d="M359.00,276.90 Q366.00,276.90 373.00,276.90 Q377.00,276.90 377.00,282.00 Q377.00,287.10 373.00,287.10 Q366.00,287.10 359.00,287.10 Q355.00,287.10 355.00,282.00 Q355.00,276.90 359.00,276.90 Z" fill="#151515" opacity="1" filter="url(#b1)"/>
</g>
<rect x="325.5" y="268.5" width="54.5" height="28.0" fill="none" stroke="#222" stroke-width="1.4" rx="0.5"/>
<clipPath id="c19"><rect x="325.5" y="300" width="54.5" height="28"/></clipPath>
<g clip-path="url(#c19)">
<rect x="325.5" y="300" width="54.5" height="28" fill="#eaeaea"/>
<rect x="328.9" y="300" width="21" height="28" fill="#000" opacity="0.035" filter="url(#b2)"/>
<rect x="328.9" y="302" width="21" height="11" fill="url(#smU)" opacity="0.14" filter="url(#b2)"/>
<rect x="328.9" y="313" width="21" height="15" fill="url(#smD)" opacity="0.05" filter="url(#b2)"/>
<path d="M331.90,307.90 Q339.40,307.90 346.90,307.90 Q350.90,307.90 350.90,313.00 Q350.90,318.10 346.90,318.10 Q339.40,318.10 331.90,318.10 Q327.90,318.10 327.90,313.00 Q327.90,307.90 331.90,307.90 Z" fill="#151515" opacity="1" filter="url(#b1)"/>
<rect x="356.0" y="300" width="20" height="28" fill="#000" opacity="0.035" filter="url(#b2)"/>
<rect x="356.0" y="302" width="20" height="10" fill="url(#smU)" opacity="0.14" filter="url(#b2)"/>
<rect x="356.0" y="312" width="20" height="16" fill="url(#smD)" opacity="0.05" filter="url(#b2)"/>
<path d="M359.00,307.40 Q366.00,307.40 373.00,307.40 Q377.00,307.40 377.00,312.00 Q377.00,316.60 373.00,316.60 Q366.00,316.60 359.00,316.60 Q355.00,316.60 355.00,312.00 Q355.00,307.40 359.00,307.40 Z" fill="#181818" opacity="1" filter="url(#b1)"/>
</g>
<rect x="325.5" y="300" width="54.5" height="28" fill="none" stroke="#222" stroke-width="1.4" rx="0.5"/>
<clipPath id="c20"><rect x="325.5" y="330.4" width="54.5" height="28.400000000000034"/></clipPath>
<g clip-path="url(#c20)">
<rect x="325.5" y="330.4" width="54.5" height="28.400000000000034" fill="#eaeaea"/>
<rect x="328.4" y="330.4" width="22" height="28.400000000000034" fill="#000" opacity="0.035" filter="url(#b2)"/>
<rect x="328.4" y="332.4" width="22" height="10.600000000000023" fill="url(#smU)" opacity="0.14" filter="url(#b2)"/>
<rect x="328.4" y="343" width="22" height="15.800000000000011" fill="url(#smD)" opacity="0.05" filter="url(#b2)"/>
<path d="M331.40,337.40 Q339.40,337.40 347.40,337.40 Q351.40,337.40 351.40,343.00 Q351.40,348.60 347.40,348.60 Q339.40,348.60 331.40,348.60 Q327.40,348.60 327.40,343.00 Q327.40,337.40 331.40,337.40 Z" fill="#141414" opacity="1" filter="url(#b1)"/>
<rect x="355.0" y="330.4" width="22" height="28.400000000000034" fill="#000" opacity="0.035" filter="url(#b2)"/>
<rect x="355.0" y="332.4" width="22" height="9.600000000000023" fill="url(#smU)" opacity="0.14" filter="url(#b2)"/>
<rect x="355.0" y="342" width="22" height="16.80000000000001" fill="url(#smD)" opacity="0.05" filter="url(#b2)"/>
<path d="M358.00,336.40 Q366.00,336.40 374.00,336.40 Q378.00,336.40 378.00,342.00 Q378.00,347.60 374.00,347.60 Q366.00,347.60 358.00,347.60 Q354.00,347.60 354.00,342.00 Q354.00,336.40 358.00,336.40 Z" fill="#141414" opacity="1" filter="url(#b1)"/>
</g>
<rect x="325.5" y="330.4" width="54.5" height="28.400000000000034" fill="none" stroke="#222" stroke-width="1.4" rx="0.5"/>
<clipPath id="c21"><rect x="325.5" y="361.2" width="54.5" height="28.0"/></clipPath>
<g clip-path="url(#c21)">
<rect x="325.5" y="361.2" width="54.5" height="28.0" fill="#e8e8e8"/>
<rect x="328.4" y="361.2" width="22" height="28.0" fill="#000" opacity="0.035" filter="url(#b2)"/>
<rect x="328.4" y="363.2" width="22" height="12.800000000000011" fill="url(#smU)" opacity="0.14" filter="url(#b2)"/>
<rect x="328.4" y="376" width="22" height="13.199999999999989" fill="url(#smD)" opacity="0.05" filter="url(#b2)"/>
<path d="M331.09,371.90 Q339.40,371.90 347.71,371.90 Q351.40,371.90 351.40,376.00 Q351.40,380.10 347.71,380.10 Q339.40,380.10 331.09,380.10 Q327.40,380.10 327.40,376.00 Q327.40,371.90 331.09,371.90 Z" fill="#181818" opacity="1" filter="url(#b1)"/>
<rect x="356.0" y="361.2" width="20" height="28.0" fill="#000" opacity="0.035" filter="url(#b2)"/>
<rect x="356.0" y="363.2" width="20" height="11.800000000000011" fill="url(#smU)" opacity="0.14" filter="url(#b2)"/>
<rect x="356.0" y="375" width="20" height="14.199999999999989" fill="url(#smD)" opacity="0.05" filter="url(#b2)"/>
<path d="M358.69,370.90 Q366.00,370.90 373.31,370.90 Q377.00,370.90 377.00,375.00 Q377.00,379.10 373.31,379.10 Q366.00,379.10 358.69,379.10 Q355.00,379.10 355.00,375.00 Q355.00,370.90 358.69,370.90 Z" fill="#181818" opacity="1" filter="url(#b1)"/>
</g>
<rect x="325.5" y="361.2" width="54.5" height="28.0" fill="none" stroke="#222" stroke-width="1.4" rx="0.5"/>
<clipPath id="c22"><rect x="325.5" y="393" width="54.5" height="28.19999999999999"/></clipPath>
<g clip-path="url(#c22)">
<rect x="325.5" y="393" width="54.5" height="28.19999999999999" fill="#eeeeee"/>
<rect x="329.4" y="393" width="20" height="28.19999999999999" fill="#000" opacity="0.035" filter="url(#b2)"/>
<rect x="329.4" y="395" width="20" height="13.5" fill="url(#smU)" opacity="0.14" filter="url(#b2)"/>
<rect x="329.4" y="408.5" width="20" height="12.699999999999989" fill="url(#smD)" opacity="0.05" filter="url(#b2)"/>
<path d="M332.40,403.75 Q339.40,403.75 346.40,403.75 Q350.40,403.75 350.40,408.50 Q350.40,413.25 346.40,413.25 Q339.40,413.25 332.40,413.25 Q328.40,413.25 328.40,408.50 Q328.40,403.75 332.40,403.75 Z" fill="#141414" opacity="1" filter="url(#b1)"/>
<rect x="356.0" y="393" width="20" height="28.19999999999999" fill="#000" opacity="0.035" filter="url(#b2)"/>
<rect x="356.0" y="395" width="20" height="11.800000000000011" fill="url(#smU)" opacity="0.14" filter="url(#b2)"/>
<rect x="356.0" y="406.8" width="20" height="14.399999999999977" fill="url(#smD)" opacity="0.05" filter="url(#b2)"/>
<path d="M359.00,402.30 Q366.00,402.30 373.00,402.30 Q377.00,402.30 377.00,406.80 Q377.00,411.30 373.00,411.30 Q366.00,411.30 359.00,411.30 Q355.00,411.30 355.00,406.80 Q355.00,402.30 359.00,402.30 Z" fill="#141414" opacity="1" filter="url(#b1)"/>
</g>
<rect x="325.5" y="393" width="54.5" height="28.19999999999999" fill="none" stroke="#222" stroke-width="1.4" rx="0.5"/>
<clipPath id="c23"><rect x="325.5" y="425" width="54.5" height="28"/></clipPath>
<g clip-path="url(#c23)">
<rect x="325.5" y="425" width="54.5" height="28" fill="#ececec"/>
<rect x="329.4" y="425" width="20" height="28" fill="#000" opacity="0.035" filter="url(#b2)"/>
<rect x="329.4" y="427" width="20" height="12.5" fill="url(#smU)" opacity="0.14" filter="url(#b2)"/>
<rect x="329.4" y="439.5" width="20" height="13.5" fill="url(#smD)" opacity="0.05" filter="url(#b2)"/>
<path d="M331.32,436.25 Q339.40,436.25 347.47,436.25 Q350.40,436.25 350.40,439.50 Q350.40,442.75 347.47,442.75 Q339.40,442.75 331.32,442.75 Q328.40,442.75 328.40,439.50 Q328.40,436.25 331.32,436.25 Z" fill="#151515" opacity="1" filter="url(#b1)"/>
<rect x="328.5" y="425" width="6" height="28" fill="#000" opacity="0.035" filter="url(#b2)"/>
<rect x="328.5" y="427" width="6" height="12.5" fill="url(#smU)" opacity="0.14" filter="url(#b2)"/>
<rect x="328.5" y="439.5" width="6" height="13.5" fill="url(#smD)" opacity="0.05" filter="url(#b2)"/>
<path d="M331.50,434.50 Q331.50,434.50 331.50,434.50 Q335.50,434.50 335.50,439.50 Q335.50,444.50 331.50,444.50 Q331.50,444.50 331.50,444.50 Q327.50,444.50 327.50,439.50 Q327.50,434.50 331.50,434.50 Z" fill="#121212" opacity="1" filter="url(#b1)"/>
<rect x="344.5" y="425" width="6" height="28" fill="#000" opacity="0.035" filter="url(#b2)"/>
<rect x="344.5" y="427" width="6" height="12" fill="url(#smU)" opacity="0.14" filter="url(#b2)"/>
<rect x="344.5" y="439" width="6" height="14" fill="url(#smD)" opacity="0.05" filter="url(#b2)"/>
<path d="M347.50,434.50 Q347.50,434.50 347.50,434.50 Q351.50,434.50 351.50,439.00 Q351.50,443.50 347.50,443.50 Q347.50,443.50 347.50,443.50 Q343.50,443.50 343.50,439.00 Q343.50,434.50 347.50,434.50 Z" fill="#121212" opacity="1" filter="url(#b1)"/>
<rect x="356.0" y="425" width="20" height="28" fill="#000" opacity="0.035" filter="url(#b2)"/>
<rect x="356.0" y="427" width="20" height="10.5" fill="url(#smU)" opacity="0.14" filter="url(#b2)"/>
<rect x="356.0" y="437.5" width="20" height="15.5" fill="url(#smD)" opacity="0.05" filter="url(#b2)"/>
<path d="M357.93,434.25 Q366.00,434.25 374.07,434.25 Q377.00,434.25 377.00,437.50 Q377.00,440.75 374.07,440.75 Q366.00,440.75 357.93,440.75 Q355.00,440.75 355.00,437.50 Q355.00,434.25 357.93,434.25 Z" fill="#151515" opacity="1" filter="url(#b1)"/>
<rect x="355.5" y="425" width="6" height="28" fill="#000" opacity="0.035" filter="url(#b2)"/>
<rect x="355.5" y="427" width="6" height="11" fill="url(#smU)" opacity="0.14" filter="url(#b2)"/>
<rect x="355.5" y="438" width="6" height="15" fill="url(#smD)" opacity="0.05" filter="url(#b2)"/>
<path d="M358.32,433.75 Q358.50,433.75 358.68,433.75 Q362.50,433.75 362.50,438.00 Q362.50,442.25 358.68,442.25 Q358.50,442.25 358.32,442.25 Q354.50,442.25 354.50,438.00 Q354.50,433.75 358.32,433.75 Z" fill="#121212" opacity="1" filter="url(#b1)"/>
<rect x="369.5" y="425" width="7" height="28" fill="#000" opacity="0.035" filter="url(#b2)"/>
<rect x="369.5" y="427" width="7" height="10" fill="url(#smU)" opacity="0.14" filter="url(#b2)"/>
<rect x="369.5" y="437" width="7" height="16" fill="url(#smD)" opacity="0.05" filter="url(#b2)"/>
<path d="M372.50,431.75 Q373.00,431.75 373.50,431.75 Q377.50,431.75 377.50,437.00 Q377.50,442.25 373.50,442.25 Q373.00,442.25 372.50,442.25 Q368.50,442.25 368.50,437.00 Q368.50,431.75 372.50,431.75 Z" fill="#121212" opacity="1" filter="url(#b1)"/>
</g>
<rect x="325.5" y="425" width="54.5" height="28" fill="none" stroke="#222" stroke-width="1.4" rx="0.5"/>
<clipPath id="c24"><rect x="325.5" y="458" width="54.5" height="27.69999999999999"/></clipPath>
<g clip-path="url(#c24)">
<rect x="325.5" y="458" width="54.5" height="27.69999999999999" fill="#e8e8e8"/>
<rect x="328.4" y="458" width="22" height="27.69999999999999" fill="#000" opacity="0.035" filter="url(#b2)"/>
<rect x="328.4" y="460" width="22" height="13" fill="url(#smU)" opacity="0.14" filter="url(#b2)"/>
<rect x="328.4" y="473" width="22" height="12.699999999999989" fill="url(#smD)" opacity="0.05" filter="url(#b2)"/>
<path d="M331.40,468.40 Q339.40,468.40 347.40,468.40 Q351.40,468.40 351.40,473.00 Q351.40,477.60 347.40,477.60 Q339.40,477.60 331.40,477.60 Q327.40,477.60 327.40,473.00 Q327.40,468.40 331.40,468.40 Z" fill="#151515" opacity="1" filter="url(#b1)"/>
<rect x="356.0" y="458" width="20" height="27.69999999999999" fill="#000" opacity="0.035" filter="url(#b2)"/>
<rect x="356.0" y="460" width="20" height="11" fill="url(#smU)" opacity="0.14" filter="url(#b2)"/>
<rect x="356.0" y="471" width="20" height="14.699999999999989" fill="url(#smD)" opacity="0.05" filter="url(#b2)"/>
<path d="M359.00,465.90 Q366.00,465.90 373.00,465.90 Q377.00,465.90 377.00,471.00 Q377.00,476.10 373.00,476.10 Q366.00,476.10 359.00,476.10 Q355.00,476.10 355.00,471.00 Q355.00,465.90 359.00,465.90 Z" fill="#151515" opacity="1" filter="url(#b1)"/>
</g>
<rect x="325.5" y="458" width="54.5" height="27.69999999999999" fill="none" stroke="#222" stroke-width="1.4" rx="0.5"/>
<clipPath id="c25"><rect x="325.5" y="488.4" width="54.5" height="28.200000000000045"/></clipPath>
<g clip-path="url(#c25)">
<rect x="325.5" y="488.4" width="54.5" height="28.200000000000045" fill="#cdcdcd"/>
<rect x="328.9" y="488.4" width="21" height="28.200000000000045" fill="#000" opacity="0.035" filter="url(#b2)"/>
<rect x="328.9" y="490.4" width="21" height="13.400000000000034" fill="url(#smU)" opacity="0.14" filter="url(#b2)"/>
<rect x="328.9" y="503.8" width="21" height="12.800000000000011" fill="url(#smD)" opacity="0.05" filter="url(#b2)"/>
<path d="M331.90,498.70 Q339.40,498.70 346.90,498.70 Q350.90,498.70 350.90,503.80 Q350.90,508.90 346.90,508.90 Q339.40,508.90 331.90,508.90 Q327.90,508.90 327.90,503.80 Q327.90,498.70 331.90,498.70 Z" fill="#141414" opacity="1" filter="url(#b1)"/>
<rect x="356.0" y="488.4" width="20" height="28.200000000000045" fill="#000" opacity="0.035" filter="url(#b2)"/>
<rect x="356.0" y="490.4" width="20" height="12.100000000000023" fill="url(#smU)" opacity="0.14" filter="url(#b2)"/>
<rect x="356.0" y="502.5" width="20" height="14.100000000000023" fill="url(#smD)" opacity="0.05" filter="url(#b2)"/>
<path d="M359.00,497.40 Q366.00,497.40 373.00,497.40 Q377.00,497.40 377.00,502.50 Q377.00,507.60 373.00,507.60 Q366.00,507.60 359.00,507.60 Q355.00,507.60 355.00,502.50 Q355.00,497.40 359.00,497.40 Z" fill="#141414" opacity="1" filter="url(#b1)"/>
</g>
<rect x="325.5" y="488.4" width="54.5" height="28.200000000000045" fill="none" stroke="#222" stroke-width="1.4" rx="0.5"/>
<clipPath id="c26"><rect x="325.5" y="518" width="54.5" height="28"/></clipPath>
<g clip-path="url(#c26)">
<rect x="325.5" y="518" width="54.5" height="28" fill="#e6e6e6"/>
<rect x="328.9" y="518" width="21" height="28" fill="#000" opacity="0.035" filter="url(#b2)"/>
<rect x="328.9" y="520" width="21" height="12.5" fill="url(#smU)" opacity="0.14" filter="url(#b2)"/>
<rect x="328.9" y="532.5" width="21" height="13.5" fill="url(#smD)" opacity="0.05" filter="url(#b2)"/>
<path d="M331.90,526.90 Q339.40,526.90 346.90,526.90 Q350.90,526.90 350.90,532.50 Q350.90,538.10 346.90,538.10 Q339.40,538.10 331.90,538.10 Q327.90,538.10 327.90,532.50 Q327.90,526.90 331.90,526.90 Z" fill="#141414" opacity="1" filter="url(#b1)"/>
<rect x="356.5" y="518" width="19" height="28" fill="#000" opacity="0.035" filter="url(#b2)"/>
<rect x="356.5" y="520" width="19" height="11.5" fill="url(#smU)" opacity="0.14" filter="url(#b2)"/>
<rect x="356.5" y="531.5" width="19" height="14.5" fill="url(#smD)" opacity="0.05" filter="url(#b2)"/>
<path d="M358.74,527.90 Q366.00,527.90 373.26,527.90 Q376.50,527.90 376.50,531.50 Q376.50,535.10 373.26,535.10 Q366.00,535.10 358.74,535.10 Q355.50,535.10 355.50,531.50 Q355.50,527.90 358.74,527.90 Z" fill="#181818" opacity="1" filter="url(#b1)"/>
</g>
<rect x="325.5" y="518" width="54.5" height="28" fill="none" stroke="#222" stroke-width="1.4" rx="0.5"/>
<clipPath id="c27"><rect x="325.5" y="549" width="54.5" height="27.600000000000023"/></clipPath>
<g clip-path="url(#c27)">
<rect x="325.5" y="549" width="54.5" height="27.600000000000023" fill="#e4e4e4"/>
<rect x="328.4" y="549" width="22" height="27.600000000000023" fill="#000" opacity="0.035" filter="url(#b2)"/>
<rect x="328.4" y="551" width="22" height="12.799999999999955" fill="url(#smU)" opacity="0.14" filter="url(#b2)"/>
<rect x="328.4" y="563.8" width="22" height="12.800000000000068" fill="url(#smD)" opacity="0.05" filter="url(#b2)"/>
<path d="M331.40,558.20 Q339.40,558.20 347.40,558.20 Q351.40,558.20 351.40,563.80 Q351.40,569.40 347.40,569.40 Q339.40,569.40 331.40,569.40 Q327.40,569.40 327.40,563.80 Q327.40,558.20 331.40,558.20 Z" fill="#141414" opacity="1" filter="url(#b1)"/>
<rect x="355.0" y="549" width="22" height="27.600000000000023" fill="#000" opacity="0.035" filter="url(#b2)"/>
<rect x="355.0" y="551" width="22" height="12.799999999999955" fill="url(#smU)" opacity="0.14" filter="url(#b2)"/>
<rect x="355.0" y="563.8" width="22" height="12.800000000000068" fill="url(#smD)" opacity="0.05" filter="url(#b2)"/>
<path d="M358.00,557.70 Q366.00,557.70 374.00,557.70 Q378.00,557.70 378.00,563.80 Q378.00,569.90 374.00,569.90 Q366.00,569.90 358.00,569.90 Q354.00,569.90 354.00,563.80 Q354.00,557.70 358.00,557.70 Z" fill="#141414" opacity="1" filter="url(#b1)"/>
</g>
<rect x="325.5" y="549" width="54.5" height="27.600000000000023" fill="none" stroke="#222" stroke-width="1.4" rx="0.5"/>
<clipPath id="c28"><rect x="325.5" y="580.3" width="54.5" height="27.700000000000045"/></clipPath>
<g clip-path="url(#c28)">
<rect x="325.5" y="580.3" width="54.5" height="27.700000000000045" fill="#e4e4e4"/>
<rect x="328.4" y="580.3" width="22" height="27.700000000000045" fill="#000" opacity="0.035" filter="url(#b2)"/>
<rect x="328.4" y="582.3" width="22" height="10.300000000000068" fill="url(#smU)" opacity="0.14" filter="url(#b2)"/>
<rect x="328.4" y="592.6" width="22" height="15.399999999999977" fill="url(#smD)" opacity="0.05" filter="url(#b2)"/>
<path d="M331.40,586.50 Q339.40,586.50 347.40,586.50 Q351.40,586.50 351.40,592.60 Q351.40,598.70 347.40,598.70 Q339.40,598.70 331.40,598.70 Q327.40,598.70 327.40,592.60 Q327.40,586.50 331.40,586.50 Z" fill="#141414" opacity="1" filter="url(#b1)"/>
<rect x="355.0" y="580.3" width="22" height="27.700000000000045" fill="#000" opacity="0.035" filter="url(#b2)"/>
<rect x="355.0" y="582.3" width="22" height="10.300000000000068" fill="url(#smU)" opacity="0.14" filter="url(#b2)"/>
<rect x="355.0" y="592.6" width="22" height="15.399999999999977" fill="url(#smD)" opacity="0.05" filter="url(#b2)"/>
<path d="M358.00,587.00 Q366.00,587.00 374.00,587.00 Q378.00,587.00 378.00,592.60 Q378.00,598.20 374.00,598.20 Q366.00,598.20 358.00,598.20 Q354.00,598.20 354.00,592.60 Q354.00,587.00 358.00,587.00 Z" fill="#141414" opacity="1" filter="url(#b1)"/>
</g>
<rect x="325.5" y="580.3" width="54.5" height="27.700000000000045" fill="none" stroke="#222" stroke-width="1.4" rx="0.5"/>
<text x="141.6" y="173.6" font-family='"Liberation Sans", sans-serif' font-size="18" text-anchor="start" fill="#2e2e2e" stroke="#2e2e2e" stroke-width="0.2">SESN2</text>
<text x="141.6" y="208.1" font-family='"Liberation Sans", sans-serif' font-size="18" text-anchor="start" fill="#2e2e2e" stroke="#2e2e2e" stroke-width="0.2">HK2</text>
<text x="141.6" y="240.4" font-family='"Liberation Sans", sans-serif' font-size="18" text-anchor="start" fill="#2e2e2e" stroke="#2e2e2e" stroke-width="0.2">PFKL</text>
<text x="141.6" y="274.40000000000003" font-family='"Liberation Sans", sans-serif' font-size="18" text-anchor="start" fill="#2e2e2e" stroke="#2e2e2e" stroke-width="0.2">GPI</text>
<text x="141.6" y="308.5" font-family='"Liberation Sans", sans-serif' font-size="18" text-anchor="start" fill="#2e2e2e" stroke="#2e2e2e" stroke-width="0.2">PKM2</text>
<text x="141.6" y="337.5" font-family='"Liberation Sans", sans-serif' font-size="18" text-anchor="start" fill="#2e2e2e" stroke="#2e2e2e" stroke-width="0.2">ENO1</text>
<text x="141.6" y="368.20000000000005" font-family='"Liberation Sans", sans-serif' font-size="18" text-anchor="start" fill="#2e2e2e" stroke="#2e2e2e" stroke-width="0.2">PGK1</text>
<text x="141.6" y="401.6" font-family='"Liberation Sans", sans-serif' font-size="18" text-anchor="start" fill="#2e2e2e" stroke="#2e2e2e" stroke-width="0.2">ALDOA</text>
<text x="141.6" y="432.6" font-family='"Liberation Sans", sans-serif' font-size="18" text-anchor="start" fill="#2e2e2e" stroke="#2e2e2e" stroke-width="0.2">ALDOB</text>
<text x="141.6" y="468.6" font-family='"Liberation Sans", sans-serif' font-size="18" text-anchor="start" fill="#2e2e2e" stroke="#2e2e2e" stroke-width="0.2">LDHA</text>
<text x="141.6" y="502.1" font-family='"Liberation Sans", sans-serif' font-size="18" text-anchor="start" fill="#2e2e2e" stroke="#2e2e2e" stroke-width="0.2">PGAM1</text>
<text x="141.6" y="534.6" font-family='"Liberation Sans", sans-serif' font-size="18" text-anchor="start" fill="#2e2e2e" stroke="#2e2e2e" stroke-width="0.2">GAPDH</text>
<text x="143" y="568.6" font-family='"Liberation Sans", sans-serif' font-size="18" text-anchor="start" fill="#2e2e2e" stroke="#2e2e2e" stroke-width="0.2">TPI</text>
<text x="141.6" y="600.6" font-family='"Liberation Sans", sans-serif' font-size="18" text-anchor="start" fill="#2e2e2e" stroke="#2e2e2e" stroke-width="0.2">Actin</text>
<text x="30.7" y="160.7" font-family='"Liberation Sans", sans-serif' font-size="18" text-anchor="end" fill="#2e2e2e" stroke="#2e2e2e" stroke-width="0.2">66</text>
<rect x="35.3" y="155.5" width="4.8" height="1.7" fill="#2e2e2e"/>
<text x="30.7" y="196" font-family='"Liberation Sans", sans-serif' font-size="18" text-anchor="end" fill="#2e2e2e" stroke="#2e2e2e" stroke-width="0.2">116</text>
<rect x="35.3" y="190.8" width="4.8" height="1.7" fill="#2e2e2e"/>
<text x="30.7" y="224.4" font-family='"Liberation Sans", sans-serif' font-size="18" text-anchor="end" fill="#2e2e2e" stroke="#2e2e2e" stroke-width="0.2">116</text>
<rect x="35.3" y="219.20000000000002" width="4.8" height="1.7" fill="#2e2e2e"/>
<text x="30.7" y="259" font-family='"Liberation Sans", sans-serif' font-size="18" text-anchor="end" fill="#2e2e2e" stroke="#2e2e2e" stroke-width="0.2">66</text>
<rect x="35.3" y="253.8" width="4.8" height="1.7" fill="#2e2e2e"/>
<text x="30.7" y="293" font-family='"Liberation Sans", sans-serif' font-size="18" text-anchor="end" fill="#2e2e2e" stroke="#2e2e2e" stroke-width="0.2">66</text>
<rect x="35.3" y="287.8" width="4.8" height="1.7" fill="#2e2e2e"/>
<text x="30.7" y="347" font-family='"Liberation Sans", sans-serif' font-size="18" text-anchor="end" fill="#2e2e2e" stroke="#2e2e2e" stroke-width="0.2">45</text>
<rect x="35.3" y="341.8" width="4.8" height="1.7" fill="#2e2e2e"/>
<text x="30.7" y="361.5" font-family='"Liberation Sans", sans-serif' font-size="18" text-anchor="end" fill="#2e2e2e" stroke="#2e2e2e" stroke-width="0.2">45</text>
<rect x="35.3" y="356.3" width="4.8" height="1.7" fill="#2e2e2e"/>
<text x="30.7" y="413.9" font-family='"Liberation Sans", sans-serif' font-size="18" text-anchor="end" fill="#2e2e2e" stroke="#2e2e2e" stroke-width="0.2">35</text>
<rect x="35.3" y="408.7" width="4.8" height="1.7" fill="#2e2e2e"/>
<text x="30.7" y="442.4" font-family='"Liberation Sans", sans-serif' font-size="18" text-anchor="end" fill="#2e2e2e" stroke="#2e2e2e" stroke-width="0.2">35</text>
<rect x="35.3" y="437.2" width="4.8" height="1.7" fill="#2e2e2e"/>
<text x="30.7" y="478" font-family='"Liberation Sans", sans-serif' font-size="18" text-anchor="end" fill="#2e2e2e" stroke="#2e2e2e" stroke-width="0.2">35</text>
<rect x="35.3" y="472.8" width="4.8" height="1.7" fill="#2e2e2e"/>
<text x="30.7" y="510.6" font-family='"Liberation Sans", sans-serif' font-size="18" text-anchor="end" fill="#2e2e2e" stroke="#2e2e2e" stroke-width="0.2">25</text>
<rect x="35.3" y="505.40000000000003" width="4.8" height="1.7" fill="#2e2e2e"/>
<text x="30.7" y="543.5" font-family='"Liberation Sans", sans-serif' font-size="18" text-anchor="end" fill="#2e2e2e" stroke="#2e2e2e" stroke-width="0.2">35</text>
<rect x="35.3" y="538.3" width="4.8" height="1.7" fill="#2e2e2e"/>
<text x="30.7" y="579.7" font-family='"Liberation Sans", sans-serif' font-size="18" text-anchor="end" fill="#2e2e2e" stroke="#2e2e2e" stroke-width="0.2">25</text>
<rect x="35.3" y="574.5" width="4.8" height="1.7" fill="#2e2e2e"/>
<text x="30.7" y="599.4" font-family='"Liberation Sans", sans-serif' font-size="18" text-anchor="end" fill="#2e2e2e" stroke="#2e2e2e" stroke-width="0.2">45</text>
<rect x="35.3" y="594.1999999999999" width="4.8" height="1.7" fill="#2e2e2e"/>
<text x="387" y="194.0" font-family='"Liberation Sans", sans-serif' font-size="16.8" text-anchor="start" fill="#2e2e2e" stroke="#2e2e2e" stroke-width="0.2">SESN2</text>
<text x="387" y="224.8" font-family='"Liberation Sans", sans-serif' font-size="16.8" text-anchor="start" fill="#2e2e2e" stroke="#2e2e2e" stroke-width="0.2">HK2</text>
<text x="387" y="257.8" font-family='"Liberation Sans", sans-serif' font-size="16.8" text-anchor="start" fill="#2e2e2e" stroke="#2e2e2e" stroke-width="0.2">PFKL</text>
<text x="387" y="289.8" font-family='"Liberation Sans", sans-serif' font-size="16.8" text-anchor="start" fill="#2e2e2e" stroke="#2e2e2e" stroke-width="0.2">GPI</text>
<text x="387" y="320.7" font-family='"Liberation Sans", sans-serif' font-size="16.8" text-anchor="start" fill="#2e2e2e" stroke="#2e2e2e" stroke-width="0.2">PKM2</text>
<text x="387" y="351.1" font-family='"Liberation Sans", sans-serif' font-size="16.8" text-anchor="start" fill="#2e2e2e" stroke="#2e2e2e" stroke-width="0.2">ENO1</text>
<text x="387" y="380.6" font-family='"Liberation Sans", sans-serif' font-size="16.8" text-anchor="start" fill="#2e2e2e" stroke="#2e2e2e" stroke-width="0.2">PGK1</text>
<text x="387" y="411.5" font-family='"Liberation Sans", sans-serif' font-size="16.8" text-anchor="start" fill="#2e2e2e" stroke="#2e2e2e" stroke-width="0.2">ALDOA</text>
<text x="387" y="443.0" font-family='"Liberation Sans", sans-serif' font-size="16.8" text-anchor="start" fill="#2e2e2e" stroke="#2e2e2e" stroke-width="0.2">ALDOB</text>
<text x="387" y="479.3" font-family='"Liberation Sans", sans-serif' font-size="16.8" text-anchor="start" fill="#2e2e2e" stroke="#2e2e2e" stroke-width="0.2">LDHA</text>
<text x="387" y="510.2" font-family='"Liberation Sans", sans-serif' font-size="16.8" text-anchor="start" fill="#2e2e2e" stroke="#2e2e2e" stroke-width="0.2">PGAM1</text>
<text x="387" y="539.3" font-family='"Liberation Sans", sans-serif' font-size="16.8" text-anchor="start" fill="#2e2e2e" stroke="#2e2e2e" stroke-width="0.2">GAPDH</text>
<text x="389.5" y="568.8" font-family='"Liberation Sans", sans-serif' font-size="16.8" text-anchor="start" fill="#2e2e2e" stroke="#2e2e2e" stroke-width="0.2">TPI</text>
<text x="387" y="597.1999999999999" font-family='"Liberation Sans", sans-serif' font-size="16.8" text-anchor="start" fill="#2e2e2e" stroke="#2e2e2e" stroke-width="0.2">Actin</text>
<text x="310" y="177.2" font-family='"Liberation Sans", sans-serif' font-size="17" text-anchor="end" fill="#2e2e2e" stroke="#2e2e2e" stroke-width="0.2">66</text>
<rect x="314.3" y="172.0" width="4.8" height="1.7" fill="#2e2e2e"/>
<text x="310" y="209" font-family='"Liberation Sans", sans-serif' font-size="17" text-anchor="end" fill="#2e2e2e" stroke="#2e2e2e" stroke-width="0.2">116</text>
<rect x="314.3" y="203.8" width="4.8" height="1.7" fill="#2e2e2e"/>
<text x="310" y="241" font-family='"Liberation Sans", sans-serif' font-size="17" text-anchor="end" fill="#2e2e2e" stroke="#2e2e2e" stroke-width="0.2">116</text>
<rect x="314.3" y="235.8" width="4.8" height="1.7" fill="#2e2e2e"/>
<text x="310" y="273.6" font-family='"Liberation Sans", sans-serif' font-size="17" text-anchor="end" fill="#2e2e2e" stroke="#2e2e2e" stroke-width="0.2">66</text>
<rect x="314.3" y="268.40000000000003" width="4.8" height="1.7" fill="#2e2e2e"/>
<text x="310" y="302.8" font-family='"Liberation Sans", sans-serif' font-size="17" text-anchor="end" fill="#2e2e2e" stroke="#2e2e2e" stroke-width="0.2">66</text>
<rect x="314.3" y="297.6" width="4.8" height="1.7" fill="#2e2e2e"/>
<text x="310" y="355" font-family='"Liberation Sans", sans-serif' font-size="17" text-anchor="end" fill="#2e2e2e" stroke="#2e2e2e" stroke-width="0.2">45</text>
<rect x="314.3" y="349.8" width="4.8" height="1.7" fill="#2e2e2e"/>
<text x="310" y="368.3" font-family='"Liberation Sans", sans-serif' font-size="17" text-anchor="end" fill="#2e2e2e" stroke="#2e2e2e" stroke-width="0.2">45</text>
<rect x="314.3" y="363.1" width="4.8" height="1.7" fill="#2e2e2e"/>
<text x="310" y="421.2" font-family='"Liberation Sans", sans-serif' font-size="17" text-anchor="end" fill="#2e2e2e" stroke="#2e2e2e" stroke-width="0.2">35</text>
<rect x="314.3" y="416.0" width="4.8" height="1.7" fill="#2e2e2e"/>
<text x="310" y="457.5" font-family='"Liberation Sans", sans-serif' font-size="17" text-anchor="end" fill="#2e2e2e" stroke="#2e2e2e" stroke-width="0.2">35</text>
<rect x="314.3" y="452.3" width="4.8" height="1.7" fill="#2e2e2e"/>
<text x="310" y="489.5" font-family='"Liberation Sans", sans-serif' font-size="17" text-anchor="end" fill="#2e2e2e" stroke="#2e2e2e" stroke-width="0.2">35</text>
<rect x="314.3" y="484.3" width="4.8" height="1.7" fill="#2e2e2e"/>
<text x="310" y="517" font-family='"Liberation Sans", sans-serif' font-size="17" text-anchor="end" fill="#2e2e2e" stroke="#2e2e2e" stroke-width="0.2">25</text>
<rect x="314.3" y="511.8" width="4.8" height="1.7" fill="#2e2e2e"/>
<text x="310" y="540.8" font-family='"Liberation Sans", sans-serif' font-size="17" text-anchor="end" fill="#2e2e2e" stroke="#2e2e2e" stroke-width="0.2">35</text>
<rect x="314.3" y="535.5999999999999" width="4.8" height="1.7" fill="#2e2e2e"/>
<text x="310" y="578.8" font-family='"Liberation Sans", sans-serif' font-size="17" text-anchor="end" fill="#2e2e2e" stroke="#2e2e2e" stroke-width="0.2">35</text>
<rect x="314.3" y="573.5999999999999" width="4.8" height="1.7" fill="#2e2e2e"/>
<text x="310" y="598" font-family='"Liberation Sans", sans-serif' font-size="17" text-anchor="end" fill="#2e2e2e" stroke="#2e2e2e" stroke-width="0.2">45</text>
<rect x="314.3" y="592.8" width="4.8" height="1.7" fill="#2e2e2e"/>
<text x="85" y="29.7" font-family='"Liberation Sans", sans-serif' font-size="17" text-anchor="start" fill="#2e2e2e"  stroke="#2e2e2e" stroke-width="0.22">HepG2</text>
<rect x="59.7" y="36.4" width="103.3" height="1.8" fill="#2e2e2e"/>
<text x="0" y="0" transform="translate(65.5,135.5) rotate(-57)" font-family='"Liberation Sans", sans-serif' font-size="17" fill="#2e2e2e" stroke="#2e2e2e" stroke-width="0.2">shCtrl</text>
<text x="0" y="0" transform="translate(91.8,138) rotate(-57)" font-family='"Liberation Sans", sans-serif' font-size="17" fill="#2e2e2e" stroke="#2e2e2e" stroke-width="0.2">shSESN2#1</text>
<text x="0" y="0" transform="translate(119.6,138) rotate(-57)" font-family='"Liberation Sans", sans-serif' font-size="17" fill="#2e2e2e" stroke="#2e2e2e" stroke-width="0.2">shSESN2#2</text>
<text x="326" y="130.8" font-family='"Liberation Sans", sans-serif' font-size="17" text-anchor="start" fill="#2e2e2e"  stroke="#2e2e2e" stroke-width="0.22">HepG2</text>
<rect x="325.4" y="136.3" width="52.6" height="1.8" fill="#2e2e2e"/>
<text x="225.5" y="159.5" font-family='"Liberation Sans", sans-serif' font-size="17" text-anchor="start" fill="#2e2e2e"  stroke="#2e2e2e" stroke-width="0.22">Flag-SESN2</text>
<text x="366" y="157.8" font-family='"Liberation Sans", sans-serif' font-size="17" text-anchor="middle" fill="#2e2e2e"  stroke="#2e2e2e" stroke-width="0.22">+</text>
<g stroke="#333" stroke-width="1.6" fill="none">
<line x1="594.4" y1="96.60000000000002" x2="594.4" y2="294.1"/>
<line x1="593.6" y1="293.3" x2="865.4399999999999" y2="293.3"/>
<line x1="590.4" y1="293.3" x2="594.4" y2="293.3"/>
<line x1="590.4" y1="260.6" x2="594.4" y2="260.6"/>
<line x1="590.4" y1="227.9" x2="594.4" y2="227.9"/>
<line x1="590.4" y1="195.20000000000002" x2="594.4" y2="195.20000000000002"/>
<line x1="590.4" y1="162.5" x2="594.4" y2="162.5"/>
<line x1="590.4" y1="129.8" x2="594.4" y2="129.8"/>
<line x1="590.4" y1="97.10000000000002" x2="594.4" y2="97.10000000000002"/>
<line x1="594.4" y1="293.3" x2="594.4" y2="297.3"/>
<line x1="661.96" y1="293.3" x2="661.96" y2="297.3"/>
<line x1="729.52" y1="293.3" x2="729.52" y2="297.3"/>
<line x1="797.0799999999999" y1="293.3" x2="797.0799999999999" y2="297.3"/>
<line x1="864.64" y1="293.3" x2="864.64" y2="297.3"/>
</g>
<text x="579.3" y="298.6" font-family='"Liberation Sans", sans-serif' font-size="15.3" text-anchor="end" fill="#2e2e2e" textLength="22.5" lengthAdjust="spacingAndGlyphs"  stroke="#2e2e2e" stroke-width="0.22">0.0</text>
<text x="579.3" y="265.90000000000003" font-family='"Liberation Sans", sans-serif' font-size="15.3" text-anchor="end" fill="#2e2e2e" textLength="30" lengthAdjust="spacingAndGlyphs"  stroke="#2e2e2e" stroke-width="0.22">10.0</text>
<text x="579.3" y="233.20000000000002" font-family='"Liberation Sans", sans-serif' font-size="15.3" text-anchor="end" fill="#2e2e2e" textLength="30" lengthAdjust="spacingAndGlyphs"  stroke="#2e2e2e" stroke-width="0.22">20.0</text>
<text x="579.3" y="200.50000000000003" font-family='"Liberation Sans", sans-serif' font-size="15.3" text-anchor="end" fill="#2e2e2e" textLength="30" lengthAdjust="spacingAndGlyphs"  stroke="#2e2e2e" stroke-width="0.22">30.0</text>
<text x="579.3" y="167.8" font-family='"Liberation Sans", sans-serif' font-size="15.3" text-anchor="end" fill="#2e2e2e" textLength="30" lengthAdjust="spacingAndGlyphs"  stroke="#2e2e2e" stroke-width="0.22">40.0</text>
<text x="579.3" y="135.10000000000002" font-family='"Liberation Sans", sans-serif' font-size="15.3" text-anchor="end" fill="#2e2e2e" textLength="30" lengthAdjust="spacingAndGlyphs"  stroke="#2e2e2e" stroke-width="0.22">50.0</text>
<text x="579.3" y="102.40000000000002" font-family='"Liberation Sans", sans-serif' font-size="15.3" text-anchor="end" fill="#2e2e2e" textLength="30" lengthAdjust="spacingAndGlyphs"  stroke="#2e2e2e" stroke-width="0.22">60.0</text>
<text x="594.4" y="317.8" font-family='"Liberation Sans", sans-serif' font-size="15" text-anchor="middle" fill="#2e2e2e"  stroke="#2e2e2e" stroke-width="0.22">0</text>
<text x="661.96" y="317.8" font-family='"Liberation Sans", sans-serif' font-size="15" text-anchor="middle" fill="#2e2e2e"  stroke="#2e2e2e" stroke-width="0.22">20</text>
<text x="729.52" y="317.8" font-family='"Liberation Sans", sans-serif' font-size="15" text-anchor="middle" fill="#2e2e2e"  stroke="#2e2e2e" stroke-width="0.22">40</text>
<text x="797.0799999999999" y="317.8" font-family='"Liberation Sans", sans-serif' font-size="15" text-anchor="middle" fill="#2e2e2e"  stroke="#2e2e2e" stroke-width="0.22">60</text>
<text x="864.64" y="317.8" font-family='"Liberation Sans", sans-serif' font-size="15" text-anchor="middle" fill="#2e2e2e"  stroke="#2e2e2e" stroke-width="0.22">80</text>
<text x="729.5" y="340.5" font-family='"Liberation Sans", sans-serif' font-size="15.5" text-anchor="middle" fill="#2e2e2e" textLength="76" lengthAdjust="spacingAndGlyphs"  stroke="#2e2e2e" stroke-width="0.22">Time (min)</text>
<text x="0" y="0" transform="translate(540.4,190.5) rotate(-90)" font-family='"Liberation Sans", sans-serif' font-size="15.5" text-anchor="middle" fill="#2e2e2e" stroke="#2e2e2e" stroke-width="0.22" textLength="118" lengthAdjust="spacingAndGlyphs">ECAR (mpH/min)</text>
<g stroke="#555" stroke-width="1.4"><line x1="643.0432" y1="248.501" x2="643.0432" y2="260.273"/><line x1="640.0432" y1="248.501" x2="646.0432" y2="248.501"/><line x1="640.0432" y1="260.273" x2="646.0432" y2="260.273"/></g>
<g stroke="#555" stroke-width="1.4"><line x1="665.338" y1="147.785" x2="665.338" y2="170.675"/><line x1="662.338" y1="147.785" x2="668.338" y2="147.785"/><line x1="662.338" y1="170.675" x2="668.338" y2="170.675"/></g>
<g stroke="#555" stroke-width="1.4"><line x1="687.6328" y1="142.88000000000002" x2="687.6328" y2="165.77"/><line x1="684.6328" y1="142.88000000000002" x2="690.6328" y2="142.88000000000002"/><line x1="684.6328" y1="165.77" x2="690.6328" y2="165.77"/></g>
<g stroke="#555" stroke-width="1.4"><line x1="709.252" y1="142.553" x2="709.252" y2="163.48100000000002"/><line x1="706.252" y1="142.553" x2="712.252" y2="142.553"/><line x1="706.252" y1="163.48100000000002" x2="712.252" y2="163.48100000000002"/></g>
<g stroke="#555" stroke-width="1.4"><line x1="799.4446" y1="248.501" x2="799.4446" y2="260.273"/><line x1="796.4446" y1="248.501" x2="802.4446" y2="248.501"/><line x1="796.4446" y1="260.273" x2="802.4446" y2="260.273"/></g>
<g stroke="#555" stroke-width="1.4"><line x1="821.7393999999999" y1="226.26500000000001" x2="821.7393999999999" y2="236.07500000000002"/><line x1="818.7393999999999" y1="226.26500000000001" x2="824.7393999999999" y2="226.26500000000001"/><line x1="818.7393999999999" y1="236.07500000000002" x2="824.7393999999999" y2="236.07500000000002"/></g>
<g stroke="#555" stroke-width="1.4"><line x1="843.6964" y1="222.995" x2="843.6964" y2="239.34500000000003"/><line x1="840.6964" y1="222.995" x2="846.6964" y2="222.995"/><line x1="840.6964" y1="239.34500000000003" x2="846.6964" y2="239.34500000000003"/></g>
<polyline points="598.5,268.4 621.4,269.8 643.0,254.4 665.3,159.2 687.6,154.3 709.3,153.0 732.2,139.3 753.2,144.2 775.8,149.7 799.4,254.4 821.7,231.2 843.7,231.2" fill="none" stroke="#ee7d35" stroke-width="1.2"/>
<circle cx="598.5" cy="268.4" r="5" fill="#ee7d35"/>
<circle cx="621.4" cy="269.8" r="5" fill="#ee7d35"/>
<circle cx="643.0" cy="254.4" r="5" fill="#ee7d35"/>
<circle cx="665.3" cy="159.2" r="5" fill="#ee7d35"/>
<circle cx="687.6" cy="154.3" r="5" fill="#ee7d35"/>
<circle cx="709.3" cy="153.0" r="5" fill="#ee7d35"/>
<circle cx="732.2" cy="139.3" r="5" fill="#ee7d35"/>
<circle cx="753.2" cy="144.2" r="5" fill="#ee7d35"/>
<circle cx="775.8" cy="149.7" r="5" fill="#ee7d35"/>
<circle cx="799.4" cy="254.4" r="5" fill="#ee7d35"/>
<circle cx="821.7" cy="231.2" r="5" fill="#ee7d35"/>
<circle cx="843.7" cy="231.2" r="5" fill="#ee7d35"/>
<g stroke="#555" stroke-width="1.4"><line x1="621.424" y1="242.942" x2="621.424" y2="293.954"/><line x1="618.424" y1="242.942" x2="624.424" y2="242.942"/><line x1="618.424" y1="293.954" x2="624.424" y2="293.954"/></g>
<g stroke="#555" stroke-width="1.4"><line x1="665.338" y1="184.08200000000002" x2="665.338" y2="203.702"/><line x1="662.338" y1="184.08200000000002" x2="668.338" y2="184.08200000000002"/><line x1="662.338" y1="203.702" x2="668.338" y2="203.702"/></g>
<g stroke="#555" stroke-width="1.4"><line x1="687.6328" y1="170.348" x2="687.6328" y2="189.96800000000002"/><line x1="684.6328" y1="170.348" x2="690.6328" y2="170.348"/><line x1="684.6328" y1="189.96800000000002" x2="690.6328" y2="189.96800000000002"/></g>
<g stroke="#555" stroke-width="1.4"><line x1="709.252" y1="171.329" x2="709.252" y2="187.67900000000003"/><line x1="706.252" y1="171.329" x2="712.252" y2="171.329"/><line x1="706.252" y1="187.67900000000003" x2="712.252" y2="187.67900000000003"/></g>
<g stroke="#555" stroke-width="1.4"><line x1="732.2224" y1="154.65200000000002" x2="732.2224" y2="184.08200000000002"/><line x1="729.2224" y1="154.65200000000002" x2="735.2224" y2="154.65200000000002"/><line x1="729.2224" y1="184.08200000000002" x2="735.2224" y2="184.08200000000002"/></g>
<g stroke="#555" stroke-width="1.4"><line x1="753.1659999999999" y1="162.5" x2="753.1659999999999" y2="178.85000000000002"/><line x1="750.1659999999999" y1="162.5" x2="756.1659999999999" y2="162.5"/><line x1="750.1659999999999" y1="178.85000000000002" x2="756.1659999999999" y2="178.85000000000002"/></g>
<g stroke="#555" stroke-width="1.4"><line x1="775.7986" y1="164.46200000000002" x2="775.7986" y2="177.54200000000003"/><line x1="772.7986" y1="164.46200000000002" x2="778.7986" y2="164.46200000000002"/><line x1="772.7986" y1="177.54200000000003" x2="778.7986" y2="177.54200000000003"/></g>
<g stroke="#555" stroke-width="1.4"><line x1="821.7393999999999" y1="232.805" x2="821.7393999999999" y2="240.65300000000002"/><line x1="818.7393999999999" y1="232.805" x2="824.7393999999999" y2="232.805"/><line x1="818.7393999999999" y1="240.65300000000002" x2="824.7393999999999" y2="240.65300000000002"/></g>
<polyline points="598.5,275.6 621.4,268.4 643.0,271.7 665.3,193.9 687.6,180.2 709.3,179.5 732.2,169.4 753.2,170.7 775.8,171.0 799.4,246.5 821.7,236.7 843.7,241.0" fill="none" stroke="#1c1c1c" stroke-width="1.4"/>
<circle cx="598.5" cy="275.6" r="5" fill="#1c1c1c"/>
<circle cx="621.4" cy="268.4" r="5" fill="#1c1c1c"/>
<circle cx="643.0" cy="271.7" r="5" fill="#1c1c1c"/>
<circle cx="665.3" cy="193.9" r="5" fill="#1c1c1c"/>
<circle cx="687.6" cy="180.2" r="5" fill="#1c1c1c"/>
<circle cx="709.3" cy="179.5" r="5" fill="#1c1c1c"/>
<circle cx="732.2" cy="169.4" r="5" fill="#1c1c1c"/>
<circle cx="753.2" cy="170.7" r="5" fill="#1c1c1c"/>
<circle cx="775.8" cy="171.0" r="5" fill="#1c1c1c"/>
<circle cx="799.4" cy="246.5" r="5" fill="#1c1c1c"/>
<circle cx="821.7" cy="236.7" r="5" fill="#1c1c1c"/>
<circle cx="843.7" cy="241.0" r="5" fill="#1c1c1c"/>
<g stroke="#555" stroke-width="1.4"><line x1="799.4446" y1="234.113" x2="799.4446" y2="253.733"/><line x1="796.4446" y1="234.113" x2="802.4446" y2="234.113"/><line x1="796.4446" y1="253.733" x2="802.4446" y2="253.733"/></g>
<g stroke="#555" stroke-width="1.4"><line x1="821.7393999999999" y1="215.80100000000002" x2="821.7393999999999" y2="234.11300000000003"/><line x1="818.7393999999999" y1="215.80100000000002" x2="824.7393999999999" y2="215.80100000000002"/><line x1="818.7393999999999" y1="234.11300000000003" x2="824.7393999999999" y2="234.11300000000003"/></g>
<g stroke="#555" stroke-width="1.4"><line x1="843.6964" y1="222.014" x2="843.6964" y2="238.364"/><line x1="840.6964" y1="222.014" x2="846.6964" y2="222.014"/><line x1="840.6964" y1="238.364" x2="846.6964" y2="238.364"/></g>
<polyline points="598.5,253.4 621.4,276.9 643.0,277.9 665.3,176.6 687.6,166.1 709.3,164.5 732.2,156.6 753.2,154.3 775.8,159.2 799.4,243.9 821.7,225.0 843.7,230.2" fill="none" stroke="#2eaf66" stroke-width="1.5"/>
<circle cx="598.5" cy="253.4" r="5" fill="#2eaf66"/>
<circle cx="621.4" cy="276.9" r="5" fill="#2eaf66"/>
<circle cx="643.0" cy="277.9" r="5" fill="#2eaf66"/>
<circle cx="665.3" cy="176.6" r="5" fill="#2eaf66"/>
<circle cx="687.6" cy="166.1" r="5" fill="#2eaf66"/>
<circle cx="709.3" cy="164.5" r="5" fill="#2eaf66"/>
<circle cx="732.2" cy="156.6" r="5" fill="#2eaf66"/>
<circle cx="753.2" cy="154.3" r="5" fill="#2eaf66"/>
<circle cx="775.8" cy="159.2" r="5" fill="#2eaf66"/>
<circle cx="799.4" cy="243.9" r="5" fill="#2eaf66"/>
<circle cx="821.7" cy="225.0" r="5" fill="#2eaf66"/>
<circle cx="843.7" cy="230.2" r="5" fill="#2eaf66"/>
<line x1="655.3" y1="136" x2="655.3" y2="154.5" stroke="#1a1a1a" stroke-width="1.8"/>
<path d="M650.8,153.5 L659.8,153.5 L655.3,164.5 Z" fill="#1a1a1a"/>
<line x1="716.6" y1="107" x2="716.6" y2="123.5" stroke="#1a1a1a" stroke-width="1.8"/>
<path d="M712.1,122.5 L721.1,122.5 L716.6,133.5 Z" fill="#1a1a1a"/>
<line x1="787.4" y1="107" x2="787.4" y2="133.5" stroke="#1a1a1a" stroke-width="1.8"/>
<path d="M782.9,132.5 L791.9,132.5 L787.4,143.5 Z" fill="#1a1a1a"/>
<text x="630" y="130.6" font-family='"Liberation Sans", sans-serif' font-size="15" text-anchor="start" fill="#2e2e2e" textLength="57.5" lengthAdjust="spacingAndGlyphs"  stroke="#2e2e2e" stroke-width="0.22">Glucose</text>
<text x="678" y="97" font-family='"Liberation Sans", sans-serif' font-size="15" text-anchor="start" fill="#2e2e2e" textLength="77.5" lengthAdjust="spacingAndGlyphs"  stroke="#2e2e2e" stroke-width="0.22">Oligomycin</text>
<text x="767.5" y="98.8" font-family='"Liberation Sans", sans-serif' font-size="15" text-anchor="start" fill="#2e2e2e" textLength="38" lengthAdjust="spacingAndGlyphs"  stroke="#2e2e2e" stroke-width="0.22">2-DG</text>
<line x1="799" y1="127.5" x2="834" y2="127.5" stroke="#1c1c1c" stroke-width="1.3" opacity="0.85"/>
<circle cx="816.5" cy="127.5" r="4.2" fill="#1c1c1c"/>
<text x="837" y="132.7" font-family='"Liberation Sans", sans-serif' font-size="15.5" text-anchor="start" fill="#2e2e2e" textLength="41.5" lengthAdjust="spacingAndGlyphs"  stroke="#2e2e2e" stroke-width="0.22">shCtrl</text>
<line x1="799" y1="156.5" x2="834" y2="156.5" stroke="#ee7d35" stroke-width="1.3" opacity="0.85"/>
<circle cx="816.5" cy="156.5" r="4.2" fill="#ee7d35"/>
<text x="837" y="161.7" font-family='"Liberation Sans", sans-serif' font-size="15.5" text-anchor="start" fill="#2e2e2e" textLength="86.5" lengthAdjust="spacingAndGlyphs"  stroke="#2e2e2e" stroke-width="0.22">shSESN2#1</text>
<line x1="799" y1="184.9" x2="834" y2="184.9" stroke="#2eaf66" stroke-width="1.3" opacity="0.85"/>
<circle cx="816.5" cy="184.9" r="4.2" fill="#2eaf66"/>
<text x="837" y="190.1" font-family='"Liberation Sans", sans-serif' font-size="15.5" text-anchor="start" fill="#2e2e2e" textLength="87" lengthAdjust="spacingAndGlyphs"  stroke="#2e2e2e" stroke-width="0.22">shSESN2#2</text>
<g stroke="#444" stroke-width="1.5" fill="none">
<line x1="604.0" y1="386.69999999999993" x2="604.0" y2="557.5999999999999"/>
<line x1="603.2" y1="556.8" x2="845.8" y2="556.8"/>
<line x1="600.0" y1="556.8" x2="604.0" y2="556.8"/>
<line x1="600.0" y1="535.5999999999999" x2="604.0" y2="535.5999999999999"/>
<line x1="600.0" y1="514.4" x2="604.0" y2="514.4"/>
<line x1="600.0" y1="493.19999999999993" x2="604.0" y2="493.19999999999993"/>
<line x1="600.0" y1="471.99999999999994" x2="604.0" y2="471.99999999999994"/>
<line x1="600.0" y1="450.79999999999995" x2="604.0" y2="450.79999999999995"/>
<line x1="600.0" y1="429.59999999999997" x2="604.0" y2="429.59999999999997"/>
<line x1="600.0" y1="408.4" x2="604.0" y2="408.4"/>
<line x1="600.0" y1="387.19999999999993" x2="604.0" y2="387.19999999999993"/>
<line x1="604.0" y1="556.8" x2="604.0" y2="560.8"/>
<line x1="664.25" y1="556.8" x2="664.25" y2="560.8"/>
<line x1="724.5" y1="556.8" x2="724.5" y2="560.8"/>
<line x1="784.75" y1="556.8" x2="784.75" y2="560.8"/>
<line x1="845.0" y1="556.8" x2="845.0" y2="560.8"/>
</g>
<text x="592.5" y="561.5" font-family='"Liberation Serif", serif' font-size="14.5" text-anchor="end" fill="#333" textLength="17" lengthAdjust="spacingAndGlyphs"  stroke="#333" stroke-width="0.22">0.0</text>
<text x="592.5" y="540.3" font-family='"Liberation Serif", serif' font-size="14.5" text-anchor="end" fill="#333" textLength="23.5" lengthAdjust="spacingAndGlyphs"  stroke="#333" stroke-width="0.22">10.0</text>
<text x="592.5" y="519.1" font-family='"Liberation Serif", serif' font-size="14.5" text-anchor="end" fill="#333" textLength="23.5" lengthAdjust="spacingAndGlyphs"  stroke="#333" stroke-width="0.22">20.0</text>
<text x="592.5" y="497.8999999999999" font-family='"Liberation Serif", serif' font-size="14.5" text-anchor="end" fill="#333" textLength="23.5" lengthAdjust="spacingAndGlyphs"  stroke="#333" stroke-width="0.22">30.0</text>
<text x="592.5" y="476.69999999999993" font-family='"Liberation Serif", serif' font-size="14.5" text-anchor="end" fill="#333" textLength="23.5" lengthAdjust="spacingAndGlyphs"  stroke="#333" stroke-width="0.22">40.0</text>
<text x="592.5" y="455.49999999999994" font-family='"Liberation Serif", serif' font-size="14.5" text-anchor="end" fill="#333" textLength="23.5" lengthAdjust="spacingAndGlyphs"  stroke="#333" stroke-width="0.22">50.0</text>
<text x="592.5" y="434.29999999999995" font-family='"Liberation Serif", serif' font-size="14.5" text-anchor="end" fill="#333" textLength="23.5" lengthAdjust="spacingAndGlyphs"  stroke="#333" stroke-width="0.22">60.0</text>
<text x="592.5" y="413.09999999999997" font-family='"Liberation Serif", serif' font-size="14.5" text-anchor="end" fill="#333" textLength="23.5" lengthAdjust="spacingAndGlyphs"  stroke="#333" stroke-width="0.22">70.0</text>
<text x="592.5" y="391.8999999999999" font-family='"Liberation Serif", serif' font-size="14.5" text-anchor="end" fill="#333" textLength="23.5" lengthAdjust="spacingAndGlyphs"  stroke="#333" stroke-width="0.22">80.0</text>
<text x="604.0" y="576.5" font-family='"Liberation Serif", serif' font-size="14.5" text-anchor="middle" fill="#333"  stroke="#333" stroke-width="0.22">0</text>
<text x="664.25" y="576.5" font-family='"Liberation Serif", serif' font-size="14.5" text-anchor="middle" fill="#333"  stroke="#333" stroke-width="0.22">20</text>
<text x="724.5" y="576.5" font-family='"Liberation Serif", serif' font-size="14.5" text-anchor="middle" fill="#333"  stroke="#333" stroke-width="0.22">40</text>
<text x="784.75" y="576.5" font-family='"Liberation Serif", serif' font-size="14.5" text-anchor="middle" fill="#333"  stroke="#333" stroke-width="0.22">60</text>
<text x="845.0" y="576.5" font-family='"Liberation Serif", serif' font-size="14.5" text-anchor="middle" fill="#333"  stroke="#333" stroke-width="0.22">80</text>
<text x="0" y="0" transform="translate(561.4,472) rotate(-90)" font-family='"Liberation Sans", sans-serif' font-size="14.5" text-anchor="middle" fill="#2e2e2e" stroke="#2e2e2e" stroke-width="0.22" textLength="106" lengthAdjust="spacingAndGlyphs">ECAR (mpH/min)</text>
<text x="723" y="597.5" font-family='"Liberation Sans", sans-serif' font-size="14.5" text-anchor="middle" fill="#2e2e2e"  stroke="#2e2e2e" stroke-width="0.22">Time (min)</text>
<g stroke="#555" stroke-width="1.4"><line x1="668.16625" y1="437.86799999999994" x2="668.16625" y2="446.34799999999996"/><line x1="665.16625" y1="437.86799999999994" x2="671.16625" y2="437.86799999999994"/><line x1="665.16625" y1="446.34799999999996" x2="671.16625" y2="446.34799999999996"/></g>
<g stroke="#555" stroke-width="1.4"><line x1="688.35" y1="441.25999999999993" x2="688.35" y2="447.61999999999995"/><line x1="685.35" y1="441.25999999999993" x2="691.35" y2="441.25999999999993"/><line x1="685.35" y1="447.61999999999995" x2="691.35" y2="447.61999999999995"/></g>
<g stroke="#555" stroke-width="1.4"><line x1="708.835" y1="441.68399999999997" x2="708.835" y2="448.044"/><line x1="705.835" y1="441.68399999999997" x2="711.835" y2="441.68399999999997"/><line x1="705.835" y1="448.044" x2="711.835" y2="448.044"/></g>
<g stroke="#555" stroke-width="1.4"><line x1="729.01875" y1="414.9719999999999" x2="729.01875" y2="423.45199999999994"/><line x1="726.01875" y1="414.9719999999999" x2="732.01875" y2="414.9719999999999"/><line x1="726.01875" y1="423.45199999999994" x2="732.01875" y2="423.45199999999994"/></g>
<g stroke="#555" stroke-width="1.4"><line x1="749.2025" y1="411.15599999999995" x2="749.2025" y2="425.996"/><line x1="746.2025" y1="411.15599999999995" x2="752.2025" y2="411.15599999999995"/><line x1="746.2025" y1="425.996" x2="752.2025" y2="425.996"/></g>
<g stroke="#555" stroke-width="1.4"><line x1="768.4825000000001" y1="404.15999999999997" x2="768.4825000000001" y2="427.47999999999996"/><line x1="765.4825000000001" y1="404.15999999999997" x2="771.4825000000001" y2="404.15999999999997"/><line x1="765.4825000000001" y1="427.47999999999996" x2="771.4825000000001" y2="427.47999999999996"/></g>
<polyline points="608.5,518.0 628.4,518.2 648.6,518.4 668.2,442.1 688.4,444.4 708.8,444.9 729.0,419.2 749.2,418.6 768.5,415.8 788.7,514.6 808.9,528.0 829.0,533.9" fill="none" stroke="#1c1c1c" stroke-width="1.3"/>
<circle cx="608.5" cy="518.0" r="4.6" fill="#1c1c1c"/>
<circle cx="628.4" cy="518.2" r="4.6" fill="#1c1c1c"/>
<circle cx="648.6" cy="518.4" r="4.6" fill="#1c1c1c"/>
<circle cx="668.2" cy="442.1" r="4.6" fill="#1c1c1c"/>
<circle cx="688.4" cy="444.4" r="4.6" fill="#1c1c1c"/>
<circle cx="708.8" cy="444.9" r="4.6" fill="#1c1c1c"/>
<circle cx="729.0" cy="419.2" r="4.6" fill="#1c1c1c"/>
<circle cx="749.2" cy="418.6" r="4.6" fill="#1c1c1c"/>
<circle cx="768.5" cy="415.8" r="4.6" fill="#1c1c1c"/>
<circle cx="788.7" cy="514.6" r="4.6" fill="#1c1c1c"/>
<circle cx="808.9" cy="528.0" r="4.6" fill="#1c1c1c"/>
<circle cx="829.0" cy="533.9" r="4.6" fill="#1c1c1c"/>
<g stroke="#555" stroke-width="1.4"><line x1="628.40125" y1="542.596" x2="628.40125" y2="553.1959999999999"/><line x1="625.40125" y1="542.596" x2="631.40125" y2="542.596"/><line x1="625.40125" y1="553.1959999999999" x2="631.40125" y2="553.1959999999999"/></g>
<g stroke="#555" stroke-width="1.4"><line x1="648.585" y1="543.232" x2="648.585" y2="553.832"/><line x1="645.585" y1="543.232" x2="651.585" y2="543.232"/><line x1="645.585" y1="553.832" x2="651.585" y2="553.832"/></g>
<g stroke="#555" stroke-width="1.4"><line x1="668.16625" y1="521.608" x2="668.16625" y2="532.208"/><line x1="665.16625" y1="521.608" x2="671.16625" y2="521.608"/><line x1="665.16625" y1="532.208" x2="671.16625" y2="532.208"/></g>
<g stroke="#555" stroke-width="1.4"><line x1="729.01875" y1="501.256" x2="729.01875" y2="510.58399999999995"/><line x1="726.01875" y1="501.256" x2="732.01875" y2="501.256"/><line x1="726.01875" y1="510.58399999999995" x2="732.01875" y2="510.58399999999995"/></g>
<g stroke="#555" stroke-width="1.4"><line x1="749.2025" y1="497.22799999999995" x2="749.2025" y2="505.70799999999997"/><line x1="746.2025" y1="497.22799999999995" x2="752.2025" y2="497.22799999999995"/><line x1="746.2025" y1="505.70799999999997" x2="752.2025" y2="505.70799999999997"/></g>
<g stroke="#555" stroke-width="1.4"><line x1="768.4825000000001" y1="495.95599999999996" x2="768.4825000000001" y2="503.58799999999997"/><line x1="765.4825000000001" y1="495.95599999999996" x2="771.4825000000001" y2="495.95599999999996"/><line x1="765.4825000000001" y1="503.58799999999997" x2="771.4825000000001" y2="503.58799999999997"/></g>
<polyline points="608.5,544.1 628.4,547.9 648.6,548.5 668.2,526.9 688.4,521.6 708.8,518.4 729.0,505.9 749.2,501.5 768.5,499.8 788.7,539.4 808.9,543.0 829.0,545.8" fill="none" stroke="#ee7d35" stroke-width="1.3"/>
<circle cx="608.5" cy="544.1" r="4.6" fill="#ee7d35"/>
<circle cx="628.4" cy="547.9" r="4.6" fill="#ee7d35"/>
<circle cx="648.6" cy="548.5" r="4.6" fill="#ee7d35"/>
<circle cx="668.2" cy="526.9" r="4.6" fill="#ee7d35"/>
<circle cx="688.4" cy="521.6" r="4.6" fill="#ee7d35"/>
<circle cx="708.8" cy="518.4" r="4.6" fill="#ee7d35"/>
<circle cx="729.0" cy="505.9" r="4.6" fill="#ee7d35"/>
<circle cx="749.2" cy="501.5" r="4.6" fill="#ee7d35"/>
<circle cx="768.5" cy="499.8" r="4.6" fill="#ee7d35"/>
<circle cx="788.7" cy="539.4" r="4.6" fill="#ee7d35"/>
<circle cx="808.9" cy="543.0" r="4.6" fill="#ee7d35"/>
<circle cx="829.0" cy="545.8" r="4.6" fill="#ee7d35"/>
<line x1="657.5" y1="412.7" x2="657.5" y2="427" stroke="#1a1a1a" stroke-width="1.8"/>
<path d="M653.0,426 L662.0,426 L657.5,437 Z" fill="#1a1a1a"/>
<line x1="717.8" y1="385" x2="717.8" y2="399.5" stroke="#1a1a1a" stroke-width="1.8"/>
<path d="M713.3,398.5 L722.3,398.5 L717.8,409.5 Z" fill="#1a1a1a"/>
<line x1="778.8" y1="385.4" x2="778.8" y2="408" stroke="#1a1a1a" stroke-width="1.8"/>
<path d="M774.3,407 L783.3,407 L778.8,418 Z" fill="#1a1a1a"/>
<text x="636" y="408.5" font-family='"Liberation Sans", sans-serif' font-size="13.5" text-anchor="start" fill="#2e2e2e" textLength="50" lengthAdjust="spacingAndGlyphs"  stroke="#2e2e2e" stroke-width="0.22">Glucose</text>
<text x="684.5" y="379.6" font-family='"Liberation Sans", sans-serif' font-size="13.5" text-anchor="start" fill="#2e2e2e" textLength="69" lengthAdjust="spacingAndGlyphs"  stroke="#2e2e2e" stroke-width="0.22">Oligomycin</text>
<text x="762.5" y="380.8" font-family='"Liberation Sans", sans-serif' font-size="13.5" text-anchor="start" fill="#2e2e2e" textLength="32.5" lengthAdjust="spacingAndGlyphs"  stroke="#2e2e2e" stroke-width="0.22">2-DG</text>
<line x1="798.5" y1="410.3" x2="827.5" y2="410.3" stroke="#1c1c1c" stroke-width="1.4"/>
<circle cx="813" cy="410.3" r="4.4" fill="#1c1c1c"/>
<line x1="798.5" y1="435" x2="827.5" y2="435" stroke="#ee7d35" stroke-width="1.4"/>
<circle cx="813" cy="435" r="4.4" fill="#ee7d35"/>
<text x="830.8" y="415.8" font-family='"Liberation Sans", sans-serif' font-size="14.5" text-anchor="start" fill="#2e2e2e"  stroke="#2e2e2e" stroke-width="0.22">Flag</text>
<text x="830.8" y="439.8" font-family='"Liberation Sans", sans-serif' font-size="14.5" text-anchor="start" fill="#2e2e2e" textLength="76.5" lengthAdjust="spacingAndGlyphs"  stroke="#2e2e2e" stroke-width="0.22">Flag-SESN2</text>
<g fill="none" stroke="#999999" stroke-width="2.5" stroke-linecap="square" opacity="0.8">
<g transform="translate(658.2,585.9)"><path d="M4,1 L1,8"/><path d="M2,6 L12,6"/><path d="M0,13 L13,13"/><path d="M7,2 L7,13"/><path d="M7,13 L1,25"/><path d="M8,16 L13,23"/><path d="M17,4 L25,4 L25,23 L17,23 Z"/></g>
<g transform="translate(688.2,585.9)"><path d="M21,1 L5,4"/><path d="M8,7 L10,11"/><path d="M19,7 L16,11"/><path d="M1,14 L25,14"/><path d="M13,5 L13,25 L9,23"/></g>
<g transform="translate(755.7,584.9)"><path d="M2,3 L4,6"/><path d="M1,10 L5,10 L5,20 L1,24"/><path d="M5,20 Q12,26 25,25"/><path d="M9,2 L24,2 L24,9 L9,9 Z"/><path d="M14,2 L14,9"/><path d="M19,2 L19,9"/><path d="M15,10 L10,17"/><path d="M13,12 L22,12 L12,22"/><path d="M14,15 L17,17"/></g>
<g transform="translate(782.7,584.9)"><path d="M1,6 L11,6"/><path d="M5,1 L2,14 L11,14"/><path d="M7,9 L7,25"/><path d="M1,19 L11,19"/><path d="M14,1 L24,1 L24,7 L14,7 Z"/><path d="M13,10 L25,10"/><path d="M16,10 L16,24"/><path d="M22,10 L22,25"/><path d="M16,15 L22,15"/><path d="M16,19 L22,19"/><path d="M13,23 L25,22"/></g>
<g transform="translate(808.7,584.9)"><path d="M4,1 L5,4"/><path d="M1,7 L9,7 L2,15"/><path d="M6,11 L6,25"/><path d="M7,13 L10,16"/><path d="M12,6 L24,6 L24,19 L12,19 Z"/><path d="M12,12 L24,12"/><path d="M18,1 L18,25"/></g>
<g transform="translate(835.7,584.9)"><path d="M6,1 L2,8 L8,8 L3,15 L9,14"/><path d="M1,22 L10,19"/><path d="M12,3 L22,3 L13,12"/><path d="M15,5 L24,12"/><path d="M13,16 L24,16"/><path d="M18,13 L18,23"/><path d="M11,24 L25,24"/></g>
<g transform="translate(861.7,584.9)"><path d="M9,1 L2,4"/><path d="M1,9 L11,9"/><path d="M6,3 L6,25"/><path d="M6,10 L1,19"/><path d="M7,12 L11,16"/><path d="M14,5 L17,7"/><path d="M14,11 L17,13"/><path d="M12,18 L25,16"/><path d="M21,1 L21,25"/></g>
<g transform="translate(886.7,584.9)"><path d="M6,2 L8,5"/><path d="M12,1 L13,4"/><path d="M19,1 L17,5"/><path d="M2,10 L2,7 L24,7 L24,10"/><path d="M7,12 L19,12 L13,16"/><path d="M1,18 L25,18"/><path d="M13,15 L13,25 L10,24"/></g>
<circle cx="742.7" cy="597.9" r="11.5"/><circle cx="741.7" cy="597.9" r="5"/><path d="M746.7,591.9 L746.7,602.9 Q750.7,604.9 752.7,598.9"/>
</g>
<g fill="none" stroke="#ffffff" stroke-width="2.4" stroke-linecap="square" opacity="1">
<g transform="translate(657.5,585)"><path d="M4,1 L1,8"/><path d="M2,6 L12,6"/><path d="M0,13 L13,13"/><path d="M7,2 L7,13"/><path d="M7,13 L1,25"/><path d="M8,16 L13,23"/><path d="M17,4 L25,4 L25,23 L17,23 Z"/></g>
<g transform="translate(687.5,585)"><path d="M21,1 L5,4"/><path d="M8,7 L10,11"/><path d="M19,7 L16,11"/><path d="M1,14 L25,14"/><path d="M13,5 L13,25 L9,23"/></g>
<g transform="translate(755,584)"><path d="M2,3 L4,6"/><path d="M1,10 L5,10 L5,20 L1,24"/><path d="M5,20 Q12,26 25,25"/><path d="M9,2 L24,2 L24,9 L9,9 Z"/><path d="M14,2 L14,9"/><path d="M19,2 L19,9"/><path d="M15,10 L10,17"/><path d="M13,12 L22,12 L12,22"/><path d="M14,15 L17,17"/></g>
<g transform="translate(782,584)"><path d="M1,6 L11,6"/><path d="M5,1 L2,14 L11,14"/><path d="M7,9 L7,25"/><path d="M1,19 L11,19"/><path d="M14,1 L24,1 L24,7 L14,7 Z"/><path d="M13,10 L25,10"/><path d="M16,10 L16,24"/><path d="M22,10 L22,25"/><path d="M16,15 L22,15"/><path d="M16,19 L22,19"/><path d="M13,23 L25,22"/></g>
<g transform="translate(808,584)"><path d="M4,1 L5,4"/><path d="M1,7 L9,7 L2,15"/><path d="M6,11 L6,25"/><path d="M7,13 L10,16"/><path d="M12,6 L24,6 L24,19 L12,19 Z"/><path d="M12,12 L24,12"/><path d="M18,1 L18,25"/></g>
<g transform="translate(835,584)"><path d="M6,1 L2,8 L8,8 L3,15 L9,14"/><path d="M1,22 L10,19"/><path d="M12,3 L22,3 L13,12"/><path d="M15,5 L24,12"/><path d="M13,16 L24,16"/><path d="M18,13 L18,23"/><path d="M11,24 L25,24"/></g>
<g transform="translate(861,584)"><path d="M9,1 L2,4"/><path d="M1,9 L11,9"/><path d="M6,3 L6,25"/><path d="M6,10 L1,19"/><path d="M7,12 L11,16"/><path d="M14,5 L17,7"/><path d="M14,11 L17,13"/><path d="M12,18 L25,16"/><path d="M21,1 L21,25"/></g>
<g transform="translate(886,584)"><path d="M6,2 L8,5"/><path d="M12,1 L13,4"/><path d="M19,1 L17,5"/><path d="M2,10 L2,7 L24,7 L24,10"/><path d="M7,12 L19,12 L13,16"/><path d="M1,18 L25,18"/><path d="M13,15 L13,25 L10,24"/></g>
<circle cx="742" cy="597" r="11.5"/><circle cx="741" cy="597" r="5"/><path d="M746,591 L746,602 Q750,604 752,598"/>
</g>
<ellipse cx="0.5" cy="47" rx="1.8" ry="3.5" fill="#ececec" filter="url(#b1)"/>
</svg></body></html>
